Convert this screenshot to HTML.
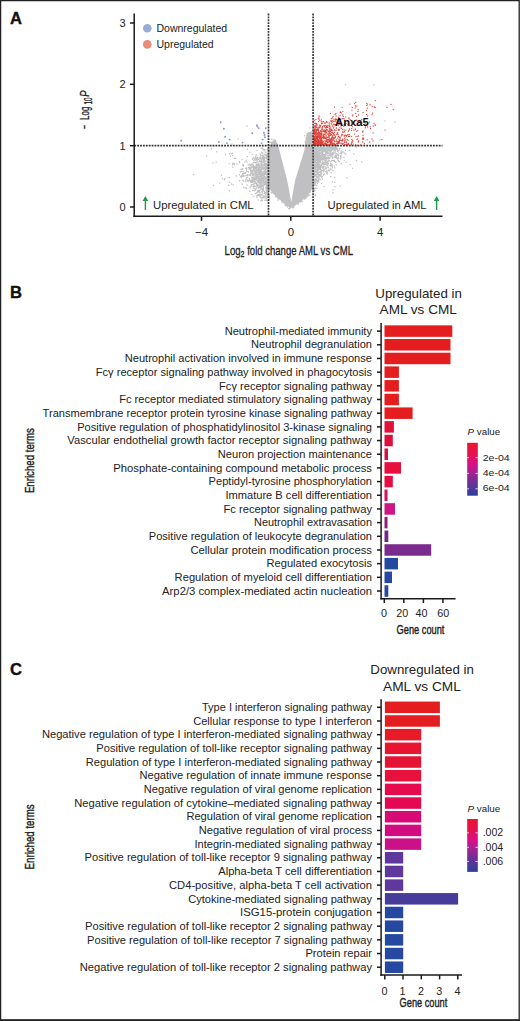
<!DOCTYPE html><html><head><meta charset="utf-8"><style>html,body{margin:0;padding:0;background:#fff;}svg{display:block;}text{font-family:"Liberation Sans", sans-serif;}</style></head><body>
<svg width="520" height="1021" viewBox="0 0 520 1021">
<rect x="0" y="0" width="520" height="1021" fill="#fff"/>
<text x="10.1" y="24.0" font-size="16.6" font-weight="bold" fill="#111" stroke="#111" stroke-width="0.35">A</text>
<text x="10.1" y="298.0" font-size="16.6" font-weight="bold" fill="#111" stroke="#111" stroke-width="0.35">B</text>
<text x="10.1" y="674.5" font-size="16.6" font-weight="bold" fill="#111" stroke="#111" stroke-width="0.35">C</text>
<path d="M291.2 202.0 L287.1 180.0 L278.7 147.5 L277.4 144.5 L276.2 141.2 L273.8 140.2 L271.4 142.0 L270.4 146.0 L269.6 150.0 L269.6 189.0 L274.0 194.5 L280.0 200.0 L286.0 205.0 L290.6 208.2 L295.0 205.8 L301.0 201.3 L306.2 197.5 L310.0 192.5 L313.3 185.5 L313.3 146.0 L313.3 134.0 L310.0 131.8 L306.6 135.0 L305.3 143.0 L304.5 150.0 L295.2 180.0z" fill="#c0c0c2"/>
<path d="M277.7 144.4h0M276.6 144.1h0M277.1 144.3h0M275.5 140.9h0M275.4 140.4h0M271.9 139.2h0M270.7 142.6h0M274.1 139.8h0M271.8 143.0h0M271.0 146.2h0M270.1 145.3h0M271.8 142.4h0M269.2 149.0h0M269.3 148.5h0M269.6 148.6h0M268.3 148.0h0M269.1 180.6h0M268.4 155.3h0M269.4 155.9h0M269.7 175.0h0M269.1 185.3h0M268.8 172.8h0M270.5 182.4h0M270.8 176.4h0M271.1 175.2h0M268.7 161.9h0M269.1 151.0h0M270.9 155.1h0M269.6 155.8h0M270.4 184.4h0M270.7 170.4h0M269.5 184.5h0M271.1 162.7h0M269.9 156.4h0M268.5 159.2h0M270.4 160.3h0M267.8 163.6h0M268.5 176.8h0M271.2 176.9h0M270.6 179.4h0M269.3 165.5h0M269.9 174.9h0M270.0 158.8h0M270.1 152.1h0M269.5 154.1h0M269.3 183.8h0M269.2 160.5h0M271.1 152.7h0M269.3 168.2h0M269.3 154.5h0M269.7 182.5h0M269.2 187.0h0M270.6 171.3h0M270.4 187.2h0M269.3 160.5h0M271.6 193.0h0M271.3 192.3h0M274.8 193.3h0M273.2 192.9h0M271.8 192.0h0M269.6 189.8h0M273.5 192.6h0M281.6 199.5h0M276.3 197.1h0M275.5 196.7h0M279.9 198.7h0M278.0 197.8h0M279.1 197.4h0M278.0 198.7h0M278.0 200.1h0M285.2 205.4h0M285.6 204.3h0M281.8 202.0h0M285.7 205.2h0M285.5 204.3h0M283.4 202.8h0M285.2 204.1h0M288.8 208.6h0M289.9 208.2h0M287.4 207.0h0M286.8 206.0h0M289.6 208.6h0M293.9 206.3h0M293.7 206.0h0M293.8 207.0h0M292.8 207.8h0M290.1 208.0h0M297.9 204.2h0M298.4 202.9h0M298.4 203.9h0M298.6 202.3h0M300.3 201.9h0M297.7 203.0h0M298.2 203.0h0M304.6 199.0h0M306.1 197.7h0M305.3 198.6h0M302.3 201.4h0M301.4 201.3h0M304.8 197.1h0M306.5 195.6h0M308.3 195.4h0M307.8 196.2h0M309.6 195.0h0M305.9 197.1h0M307.7 196.5h0M313.4 187.6h0M312.2 189.5h0M311.8 188.1h0M313.8 183.5h0M310.3 192.0h0M312.5 187.5h0M312.6 188.8h0M314.4 176.7h0M313.2 162.6h0M313.0 182.4h0M314.4 182.2h0M314.7 154.6h0M313.9 182.2h0M311.6 171.5h0M314.0 175.6h0M313.7 176.4h0M313.5 184.2h0M313.3 172.8h0M313.6 166.4h0M313.3 184.9h0M312.8 156.4h0M313.6 166.6h0M312.4 153.5h0M312.6 153.1h0M314.0 158.3h0M313.0 151.5h0M313.1 169.7h0M314.5 180.9h0M313.5 175.7h0M314.1 151.4h0M313.3 175.0h0M313.8 168.1h0M315.4 174.6h0M313.4 166.0h0M313.3 173.3h0M312.4 170.6h0M313.2 177.6h0M314.0 175.5h0M314.0 184.0h0M312.5 175.8h0M312.6 154.8h0M312.8 151.2h0M314.1 147.6h0M314.8 160.5h0M312.4 149.3h0M313.9 154.2h0M314.0 138.7h0M311.8 135.2h0M313.1 137.3h0M313.8 146.2h0M313.8 143.9h0M312.5 137.6h0M314.7 140.2h0M312.3 137.0h0M314.5 138.6h0M313.9 143.3h0M313.7 138.5h0M312.5 134.3h0M311.2 131.7h0M311.1 132.4h0M312.8 135.0h0M308.8 132.7h0M309.7 133.2h0M307.3 133.4h0M307.4 133.7h0M306.9 135.6h0M305.5 142.8h0M306.9 136.8h0M306.0 139.1h0M305.6 143.6h0M304.5 135.8h0M306.8 135.2h0M305.3 141.5h0M262.5 186.5h0M269.6 176.0h0M269.3 161.3h0M263.8 172.8h0M261.8 168.9h0M269.2 175.4h0M247.8 175.1h0M257.3 195.8h0M246.7 168.8h0M259.2 172.0h0M264.6 165.0h0M266.1 166.0h0M268.2 180.5h0M261.8 180.2h0M266.5 183.7h0M256.2 173.5h0M259.6 179.5h0M266.2 200.0h0M255.2 181.7h0M262.3 200.4h0M266.0 156.0h0M265.6 194.3h0M266.0 155.1h0M262.7 168.7h0M261.2 183.7h0M264.8 185.1h0M267.7 183.7h0M253.1 173.8h0M256.3 170.0h0M265.7 169.0h0M263.2 179.5h0M263.0 187.2h0M245.5 180.1h0M269.6 188.7h0M264.1 180.2h0M264.5 184.6h0M265.4 182.8h0M254.9 174.1h0M259.5 190.8h0M264.3 164.0h0M268.3 163.0h0M266.3 172.6h0M241.1 169.4h0M260.8 185.4h0M257.4 157.9h0M260.9 177.1h0M258.2 175.1h0M257.2 185.3h0M268.0 154.3h0M263.6 175.4h0M263.1 149.3h0M258.4 177.8h0M250.6 175.0h0M252.8 164.6h0M269.8 148.6h0M262.1 181.0h0M259.6 187.5h0M268.7 147.9h0M268.9 157.2h0M267.2 161.2h0M268.1 173.9h0M256.4 166.1h0M268.0 166.3h0M269.6 181.2h0M268.4 192.8h0M257.6 169.2h0M260.1 181.5h0M267.3 168.8h0M262.0 191.7h0M241.6 175.7h0M255.6 182.7h0M264.5 154.6h0M269.3 176.4h0M260.5 172.0h0M268.2 189.5h0M259.5 169.0h0M252.8 174.2h0M266.2 183.0h0M267.8 186.1h0M263.5 158.4h0M250.9 182.2h0M256.2 174.0h0M242.1 184.2h0M251.6 166.2h0M261.7 176.1h0M260.2 175.7h0M266.3 189.0h0M262.3 178.4h0M263.3 159.0h0M267.8 181.7h0M265.1 168.2h0M268.8 181.8h0M268.5 179.2h0M260.3 154.1h0M259.3 190.1h0M266.3 174.6h0M252.8 182.0h0M254.2 166.9h0M261.8 178.7h0M266.5 183.4h0M260.7 181.6h0M252.7 175.2h0M258.2 200.1h0M268.0 197.6h0M261.3 186.3h0M267.7 154.1h0M258.9 176.6h0M263.2 177.0h0M254.0 171.0h0M261.5 195.1h0M262.4 177.4h0M267.8 155.3h0M245.9 175.8h0M269.0 185.8h0M263.9 195.7h0M265.9 168.2h0M264.1 167.8h0M260.1 172.7h0M268.8 174.8h0M244.2 176.0h0M256.3 155.1h0M268.6 184.0h0M259.0 179.9h0M269.7 171.5h0M246.5 188.3h0M261.3 176.2h0M268.7 195.5h0M268.6 151.8h0M266.3 158.1h0M257.6 184.7h0M264.4 191.7h0M269.6 178.9h0M267.3 165.6h0M260.1 176.3h0M246.5 171.4h0M260.9 171.8h0M265.3 174.3h0M251.8 177.8h0M261.9 175.2h0M256.0 178.0h0M261.4 183.7h0M262.9 156.6h0M257.1 159.9h0M266.5 191.5h0M258.8 190.6h0M267.5 189.7h0M269.6 183.9h0M258.9 182.2h0M265.1 164.1h0M257.2 186.1h0M267.4 174.3h0M257.0 197.6h0M262.6 186.4h0M251.1 185.1h0M268.1 178.1h0M264.3 173.3h0M244.0 187.4h0M263.6 150.0h0M257.6 157.6h0M267.2 165.8h0M242.8 180.2h0M261.4 188.2h0M264.5 168.6h0M265.3 170.3h0M261.4 177.7h0M261.9 160.3h0M268.1 175.5h0M255.6 166.2h0M260.7 179.3h0M250.6 181.4h0M268.6 170.7h0M263.4 185.1h0M266.0 158.0h0M266.2 181.3h0M258.9 170.7h0M260.2 172.8h0M267.1 185.4h0M265.9 164.3h0M262.9 153.4h0M269.6 186.9h0M252.7 181.6h0M268.6 175.4h0M263.3 185.7h0M259.4 180.5h0M261.8 185.3h0M268.1 176.1h0M265.9 158.0h0M267.2 179.6h0M262.7 166.3h0M269.6 168.0h0M256.3 171.8h0M267.3 180.4h0M269.1 152.4h0M268.3 183.1h0M256.3 195.9h0M268.1 189.2h0M251.9 184.4h0M257.5 192.5h0M261.5 159.0h0M268.2 193.5h0M258.8 187.5h0M267.6 155.7h0M259.0 183.0h0M265.6 183.9h0M269.5 179.3h0M267.9 195.1h0M252.1 172.8h0M249.8 167.0h0M258.5 180.7h0M255.7 186.4h0M265.8 169.6h0M260.3 187.2h0M263.3 168.5h0M267.8 163.6h0M260.0 176.0h0M268.2 165.2h0M268.2 196.1h0M265.2 161.4h0M265.6 187.8h0M265.3 179.1h0M257.0 177.3h0M254.2 180.3h0M253.7 179.5h0M267.6 185.0h0M259.5 160.3h0M249.7 179.9h0M259.7 196.3h0M255.7 193.6h0M266.8 174.5h0M257.3 167.5h0M245.3 173.3h0M260.1 167.5h0M266.9 194.0h0M258.4 173.1h0M259.2 191.9h0M267.7 197.4h0M264.5 197.7h0M263.5 186.6h0M268.7 170.9h0M268.7 189.8h0M267.0 178.1h0M254.2 181.7h0M264.6 167.7h0M268.6 170.4h0M254.4 169.0h0M255.2 171.6h0M259.4 194.6h0M265.9 169.4h0M253.9 171.0h0M253.7 174.2h0M267.0 188.8h0M265.2 164.6h0M257.4 176.2h0M253.7 184.2h0M265.7 197.1h0M253.4 174.6h0M268.6 191.5h0M261.6 169.4h0M269.8 178.3h0M257.8 185.2h0M265.1 161.4h0M266.1 180.3h0M253.3 177.6h0M269.7 175.9h0M265.6 171.4h0M263.6 169.4h0M263.5 160.6h0M254.6 180.0h0M268.9 168.4h0M266.6 183.6h0M265.7 178.3h0M256.2 158.6h0M258.4 177.5h0M268.1 174.8h0M259.2 165.1h0M257.8 164.4h0M269.0 185.2h0M267.2 165.6h0M258.4 172.9h0M269.5 172.5h0M269.5 179.3h0M244.0 173.1h0M265.4 165.6h0M259.4 181.5h0M257.6 165.7h0M266.5 157.2h0M268.7 184.6h0M254.5 178.7h0M269.6 161.0h0M259.2 173.6h0M256.1 157.9h0M262.0 179.5h0M263.2 177.6h0M259.9 180.6h0M269.8 177.7h0M262.9 155.7h0M268.7 158.7h0M254.3 190.8h0M261.3 183.6h0M251.2 173.6h0M267.5 149.8h0M265.0 200.2h0M268.1 175.9h0M257.3 195.6h0M259.4 168.0h0M267.3 197.8h0M256.8 183.1h0M264.4 165.3h0M260.3 157.7h0M260.4 173.1h0M263.9 158.7h0M267.7 164.5h0M267.6 159.0h0M266.6 183.1h0M264.4 171.5h0M264.5 171.3h0M260.3 176.0h0M268.1 170.0h0M252.8 177.3h0M258.1 180.0h0M269.5 160.6h0M260.8 170.4h0M261.4 168.6h0M267.8 153.9h0M252.8 172.1h0M266.5 154.5h0M268.3 173.0h0M248.4 180.9h0M263.7 180.2h0M264.2 158.6h0M268.8 159.3h0M254.2 180.6h0M267.3 187.1h0M267.9 185.5h0M269.4 176.2h0M267.6 185.2h0M258.6 163.3h0M269.5 150.6h0M267.9 172.7h0M264.2 163.6h0M259.3 176.7h0M256.4 170.6h0M247.7 180.2h0M261.4 194.5h0M269.3 175.3h0M251.6 181.3h0M269.7 176.2h0M269.2 160.5h0M262.8 177.3h0M269.5 163.5h0M262.1 179.8h0M266.7 184.6h0M252.5 179.3h0M269.7 169.0h0M266.3 171.6h0M252.7 179.6h0M254.2 179.0h0M261.2 167.2h0M260.4 154.3h0M261.9 197.4h0M268.6 183.4h0M245.3 172.8h0M269.7 162.8h0M264.4 181.8h0M267.0 160.1h0M250.6 175.6h0M261.8 168.0h0M264.0 171.6h0M256.6 185.2h0M262.8 174.6h0M264.9 155.0h0M267.1 169.3h0M267.2 149.7h0M262.3 175.6h0M253.5 168.8h0M264.3 179.0h0M262.7 180.3h0M258.0 168.0h0M261.3 180.9h0M243.9 187.7h0M264.5 174.2h0M268.6 180.6h0M261.1 148.2h0M252.1 180.7h0M267.0 167.4h0M265.7 171.2h0M258.9 178.3h0M267.6 187.3h0M252.9 179.9h0M269.8 157.3h0M268.4 168.3h0M263.4 164.9h0M244.8 173.4h0M264.7 160.2h0M257.8 174.9h0M251.6 177.7h0M258.5 190.7h0M249.6 167.5h0M255.8 167.3h0M267.2 164.6h0M266.1 171.1h0M263.2 155.9h0M254.3 171.0h0M257.7 175.0h0M266.4 158.3h0M262.5 159.2h0M266.8 182.2h0M255.6 162.7h0M262.2 163.9h0M269.3 178.4h0M268.1 167.9h0M243.5 180.9h0M269.2 169.3h0M264.4 161.1h0M256.5 171.9h0M256.6 159.9h0M268.4 162.3h0M267.4 183.1h0M259.6 170.0h0M263.9 175.5h0M268.8 186.7h0M266.8 184.4h0M268.7 173.3h0M264.6 163.6h0M259.8 171.3h0M261.7 174.2h0M242.7 173.4h0M268.5 166.3h0M259.0 179.0h0M263.9 176.6h0M249.3 178.8h0M260.9 165.7h0M266.9 166.7h0M267.6 186.4h0M256.7 160.1h0M258.2 180.7h0M256.2 170.7h0M257.4 191.7h0M255.6 160.1h0M258.7 173.7h0M257.7 174.7h0M269.0 175.4h0M260.7 173.2h0M260.1 175.3h0M268.5 161.9h0M258.7 163.1h0M255.8 156.4h0M266.7 177.6h0M250.1 187.8h0M263.6 176.5h0M256.2 183.7h0M269.6 176.9h0M265.8 192.4h0M264.5 175.0h0M263.4 180.7h0M259.3 176.9h0M252.8 190.5h0M263.1 177.0h0M261.0 188.3h0M253.1 178.6h0M259.9 192.3h0M263.4 179.4h0M257.0 169.6h0M257.5 174.3h0M260.9 186.8h0M261.5 174.2h0M260.1 184.3h0M265.7 188.1h0M259.8 184.0h0M269.7 159.4h0M268.8 175.9h0M259.3 182.6h0M265.0 157.9h0M260.6 181.5h0M257.6 190.5h0M268.1 183.1h0M256.5 172.7h0M261.7 163.0h0M256.5 170.3h0M245.5 173.3h0M251.9 177.6h0M262.5 179.2h0M263.2 166.9h0M257.0 165.9h0M268.8 177.4h0M259.5 166.5h0M249.8 180.2h0M264.4 167.2h0M262.7 197.6h0M268.0 183.4h0M255.7 189.7h0M267.1 172.1h0M266.3 164.2h0M256.6 184.6h0M269.2 165.8h0M265.8 171.5h0M268.2 149.4h0M269.4 173.9h0M260.2 176.3h0M261.1 160.8h0M245.9 181.7h0M261.1 161.8h0M259.2 161.5h0M262.0 159.5h0M253.4 179.3h0M266.5 154.5h0M265.6 181.4h0M266.7 196.0h0M262.6 190.7h0M257.6 159.2h0M255.5 178.7h0M260.1 174.5h0M265.5 165.3h0M264.5 158.8h0M268.3 178.8h0M268.5 171.8h0M258.3 191.7h0M264.2 150.1h0M269.2 173.0h0M261.2 162.3h0M260.0 161.6h0M256.6 177.0h0M268.4 185.8h0M268.7 182.0h0M267.4 175.1h0M265.1 169.2h0M265.7 173.9h0M252.1 170.2h0M268.9 177.2h0M268.8 195.3h0M267.1 178.7h0M262.1 155.5h0M259.0 159.1h0M266.7 183.9h0M263.1 161.6h0M252.3 171.1h0M267.9 170.6h0M257.4 175.2h0M263.7 156.3h0M268.9 180.2h0M261.8 167.5h0M260.7 163.9h0M258.9 179.4h0M267.1 168.9h0M266.7 168.7h0M261.0 163.6h0M261.6 161.1h0M263.7 181.1h0M255.3 178.5h0M265.9 173.8h0M267.6 194.2h0M260.8 180.2h0M262.3 147.9h0M256.8 183.3h0M258.7 170.2h0M263.0 184.3h0M256.2 168.2h0M260.0 193.0h0M269.1 174.8h0M257.8 173.9h0M262.5 155.3h0M267.6 177.8h0M253.1 186.4h0M259.6 185.9h0M248.0 171.4h0M253.8 181.7h0M264.7 184.9h0M263.3 188.7h0M262.5 177.5h0M243.2 175.0h0M254.2 176.7h0M258.7 168.9h0M261.3 177.6h0M249.4 175.2h0M268.6 169.8h0M251.9 182.5h0M254.8 176.8h0M259.8 195.7h0M268.3 160.9h0M266.0 168.1h0M263.0 177.8h0M259.6 171.4h0M265.8 163.3h0M269.1 167.9h0M266.3 186.8h0M256.3 179.2h0M263.2 158.7h0M263.0 189.0h0M267.1 187.5h0M246.8 175.4h0M255.0 173.5h0M268.3 176.4h0M253.2 196.7h0M267.8 188.6h0M265.1 152.0h0M262.4 172.8h0M267.8 177.0h0M256.0 179.7h0M261.2 180.0h0M248.2 165.0h0M256.6 166.1h0M265.3 181.6h0M261.3 178.8h0M254.8 172.6h0M254.2 168.0h0M260.3 170.0h0M254.5 183.5h0M269.4 183.8h0M267.8 184.3h0M254.5 158.9h0M260.8 194.7h0M265.8 196.0h0M254.1 170.5h0M269.4 179.2h0M256.3 187.9h0M264.7 192.4h0M255.5 170.0h0M264.4 175.3h0M262.0 170.7h0M261.1 185.2h0M262.5 179.5h0M257.5 186.7h0M268.8 194.8h0M266.9 176.1h0M266.4 182.9h0M264.0 198.0h0M265.8 180.2h0M268.2 169.7h0M263.4 196.7h0M261.5 165.5h0M254.3 162.6h0M268.1 157.6h0M263.5 180.5h0M265.0 193.5h0M267.8 168.4h0M263.4 181.8h0M266.4 168.8h0M248.3 171.8h0M263.9 171.2h0M269.3 164.1h0M266.6 180.1h0M269.3 179.2h0M260.9 189.7h0M257.1 178.4h0M261.2 172.8h0M259.4 178.6h0M265.2 172.5h0M263.9 172.4h0M260.8 200.8h0M261.4 182.1h0M268.5 197.6h0M264.6 171.3h0M269.6 198.6h0M268.6 167.1h0M265.2 149.7h0M255.2 178.2h0M264.3 180.1h0M251.8 177.5h0M265.4 176.7h0M262.8 189.6h0M269.6 165.0h0M254.7 179.7h0M250.3 169.0h0M266.2 167.7h0M264.1 193.6h0M262.2 158.2h0M265.0 196.4h0M253.4 162.7h0M260.3 184.6h0M246.8 177.7h0M269.1 178.7h0M264.6 183.0h0M264.7 164.6h0M268.9 185.3h0M257.4 174.3h0M264.0 173.3h0M265.1 174.4h0M266.0 152.5h0M267.3 166.8h0M269.8 163.1h0M250.4 170.6h0M261.8 152.8h0M255.8 175.5h0M240.3 172.0h0M268.6 179.2h0M263.1 182.8h0M268.7 180.7h0M255.3 172.2h0M269.1 186.0h0M257.6 177.2h0M253.6 165.4h0M251.5 172.2h0M269.2 190.2h0M260.4 171.3h0M261.1 185.2h0M261.4 175.0h0M260.2 183.8h0M266.1 187.7h0M253.3 169.6h0M259.7 165.8h0M262.3 195.1h0M251.0 170.3h0M259.4 186.5h0M251.4 173.0h0M265.6 167.2h0M263.8 182.9h0M251.0 186.5h0M252.0 172.3h0M267.9 163.0h0M241.5 171.6h0M261.9 171.6h0M255.7 171.2h0M260.9 183.3h0M259.7 186.6h0M267.5 180.6h0M250.3 174.9h0M267.4 200.4h0M257.5 159.8h0M258.1 194.4h0M267.0 192.5h0M252.7 173.1h0M255.7 172.7h0M263.7 190.5h0M255.9 174.9h0M267.7 187.4h0M266.5 185.4h0M246.6 169.9h0M263.2 157.5h0M255.9 174.1h0M266.3 178.2h0M263.4 180.2h0M262.2 182.7h0M269.6 180.7h0M249.0 180.4h0M258.8 168.1h0M265.7 164.6h0M266.8 168.2h0M257.2 161.5h0M260.4 169.9h0M269.4 177.1h0M259.1 183.8h0M268.3 174.0h0M256.1 174.0h0M269.0 194.9h0M262.0 190.9h0M260.2 175.6h0M268.9 174.2h0M249.7 167.7h0M266.2 185.3h0M260.4 176.6h0M269.3 183.7h0M265.5 169.0h0M263.2 174.5h0M261.0 168.9h0M256.5 167.2h0M254.7 188.6h0M268.4 154.6h0M250.5 174.1h0M267.9 153.3h0M246.4 167.9h0M256.7 192.6h0M269.4 196.3h0M263.9 162.4h0M266.9 190.8h0M263.0 156.0h0M259.6 186.9h0M262.0 165.0h0M266.5 155.7h0M258.9 171.7h0M266.4 163.4h0M253.2 165.4h0M259.3 183.6h0M267.4 167.5h0M263.8 172.7h0M264.2 160.3h0M261.8 198.9h0M252.1 164.2h0M249.8 191.6h0M258.2 178.7h0M268.9 176.6h0M266.2 190.4h0M267.7 175.5h0M258.8 159.6h0M252.4 174.8h0M261.5 172.9h0M261.2 182.5h0M254.2 168.5h0M264.8 169.0h0M261.6 174.1h0M256.6 184.0h0M249.0 168.9h0M262.6 152.9h0M242.6 176.1h0M258.9 166.5h0M263.4 178.1h0M246.2 160.6h0M257.9 181.9h0M258.8 195.4h0M251.4 166.5h0M263.9 173.4h0M266.4 178.5h0M263.4 189.5h0M263.1 174.8h0M262.8 191.1h0M254.3 168.0h0M258.4 174.3h0M267.5 178.4h0M269.5 164.6h0M262.4 174.0h0M260.5 197.6h0M265.7 165.4h0M262.4 188.9h0M261.4 171.8h0M256.8 162.7h0M264.8 174.7h0M259.1 178.4h0M266.6 192.6h0M263.1 178.6h0M263.6 188.3h0M268.7 159.6h0M250.5 170.8h0M261.7 176.7h0M266.5 192.8h0M269.3 181.1h0M257.5 180.7h0M263.1 165.6h0M267.1 186.1h0M258.1 177.8h0M259.1 164.5h0M263.6 171.6h0M245.4 168.5h0M263.9 182.9h0M254.0 166.4h0M265.5 161.4h0M259.1 191.0h0M261.8 171.4h0M255.9 172.1h0M268.2 187.7h0M261.1 185.6h0M267.7 164.8h0M265.2 166.0h0M258.7 185.4h0M255.8 170.9h0M261.2 186.6h0M262.8 165.4h0M267.5 180.9h0M260.4 180.3h0M262.3 175.3h0M261.6 173.1h0M266.9 193.0h0M264.3 171.0h0M264.9 173.5h0M248.4 172.1h0M261.3 184.4h0M253.6 186.7h0M261.0 181.3h0M258.9 172.9h0M267.9 183.2h0M266.2 189.1h0M257.3 177.0h0M258.2 188.3h0M245.4 173.2h0M264.6 164.8h0M254.1 175.4h0M247.5 180.9h0M260.9 185.7h0M267.6 165.4h0M258.6 176.7h0M258.3 166.1h0M259.5 170.4h0M266.2 181.7h0M261.8 181.5h0M265.1 171.9h0M266.1 164.0h0M269.8 164.5h0M266.1 184.9h0M263.9 176.0h0M260.7 172.9h0M261.6 152.5h0M246.5 179.0h0M265.2 179.3h0M267.0 174.5h0M255.4 167.1h0M260.8 167.3h0M256.4 164.5h0M247.5 175.2h0M258.2 164.5h0M264.6 177.6h0M262.1 192.4h0M266.6 174.2h0M268.2 182.2h0M260.6 178.4h0M267.6 172.4h0M255.3 168.3h0M251.2 185.2h0M264.2 157.0h0M257.5 174.6h0M260.3 170.4h0M269.7 198.7h0M260.5 176.7h0M266.2 198.6h0M267.6 172.0h0M264.2 175.2h0M262.2 177.2h0M262.2 192.9h0M262.4 191.5h0M260.7 158.7h0M261.7 179.8h0M261.9 200.5h0M264.4 149.4h0M253.2 167.7h0M256.2 183.5h0M268.7 171.0h0M258.5 170.8h0M256.4 172.9h0M255.3 190.2h0M266.8 180.3h0M243.1 165.9h0M261.2 165.5h0M262.0 157.6h0M247.8 174.5h0M256.3 180.4h0M239.5 180.7h0M254.2 185.4h0M260.6 161.6h0M213.5 185.6h0M251.0 180.3h0M252.9 178.8h0M243.7 165.2h0M250.9 165.5h0M261.1 155.0h0M247.1 162.1h0M225.6 154.8h0M256.7 175.4h0M256.9 164.4h0M259.9 181.9h0M259.2 174.4h0M254.8 178.5h0M247.2 156.5h0M241.5 177.5h0M257.8 172.4h0M193.7 174.4h0M262.0 172.7h0M249.4 164.6h0M257.9 164.3h0M260.4 156.2h0M236.4 176.0h0M243.0 171.5h0M232.6 155.6h0M261.9 162.5h0M258.6 179.8h0M255.6 172.4h0M248.5 167.6h0M229.6 153.7h0M256.1 177.1h0M221.5 175.3h0M242.5 169.4h0M224.3 179.7h0M242.9 164.7h0M255.3 158.2h0M247.8 174.7h0M254.7 186.3h0M232.6 153.3h0M216.1 162.2h0M253.3 184.3h0M262.0 162.4h0M234.4 164.7h0M245.8 187.4h0M241.6 177.3h0M260.2 175.5h0M256.1 183.6h0M229.2 177.6h0M261.3 194.9h0M231.5 184.0h0M253.9 160.5h0M239.5 161.8h0M252.5 159.6h0M249.8 152.2h0M219.7 182.9h0M246.2 175.6h0M252.1 154.3h0M250.2 165.0h0M252.1 179.9h0M225.0 178.5h0M206.5 155.9h0M232.7 164.7h0M231.3 153.8h0M247.7 177.2h0M213.0 163.1h0M230.5 156.1h0M255.8 172.3h0M258.1 181.4h0M249.6 168.0h0M253.2 188.2h0M250.7 171.8h0M242.0 159.4h0M234.1 163.4h0M253.4 166.9h0M242.5 173.9h0M251.8 194.8h0M251.1 168.1h0M239.6 162.4h0M261.8 179.0h0M247.1 185.1h0M252.3 166.9h0M232.8 167.2h0M242.3 168.6h0M240.8 176.4h0M243.8 176.2h0M253.8 157.6h0M211.4 148.7h0M260.2 196.2h0M251.4 164.1h0M235.5 158.6h0M247.3 149.3h0M233.2 184.7h0M256.3 178.9h0M259.2 168.4h0M253.5 162.5h0M229.2 163.7h0M229.7 182.2h0M216.7 151.8h0M252.8 158.8h0M261.4 164.3h0M259.2 158.1h0M256.8 150.4h0M236.9 164.1h0M228.7 185.2h0M233.2 163.3h0M239.5 174.8h0M258.5 179.6h0M232.6 164.0h0M261.6 161.2h0M222.3 178.5h0M252.6 178.1h0M251.4 166.9h0M257.6 170.8h0M244.8 162.1h0M253.7 166.4h0M234.3 158.3h0M229.3 190.9h0M242.8 165.2h0M314.1 162.7h0M323.6 158.9h0M323.1 168.5h0M314.9 157.7h0M328.4 157.9h0M320.1 162.3h0M327.4 165.1h0M320.6 174.3h0M316.6 152.4h0M321.0 152.9h0M320.5 165.0h0M315.2 157.2h0M322.4 159.5h0M317.8 162.1h0M314.5 148.3h0M317.7 160.7h0M314.5 165.9h0M313.6 152.4h0M324.5 162.6h0M324.2 149.1h0M313.3 160.5h0M317.6 166.1h0M325.7 161.3h0M316.7 151.8h0M314.1 181.4h0M317.6 171.0h0M317.0 159.3h0M321.4 176.9h0M315.2 176.0h0M314.7 160.3h0M321.2 175.0h0M323.8 148.6h0M315.9 164.6h0M319.5 150.5h0M325.1 160.0h0M320.3 148.6h0M314.3 156.6h0M314.0 162.9h0M323.9 148.7h0M325.6 160.7h0M315.7 154.6h0M322.1 157.0h0M320.6 153.0h0M327.3 172.8h0M325.9 159.9h0M314.8 179.5h0M320.9 150.7h0M320.8 167.4h0M315.6 148.5h0M315.5 165.0h0M340.9 151.9h0M315.0 150.7h0M319.4 160.1h0M315.8 148.7h0M314.5 173.6h0M317.1 164.0h0M320.3 169.2h0M317.8 165.7h0M321.3 173.3h0M333.7 152.5h0M319.6 162.0h0M317.9 158.1h0M336.7 155.5h0M330.5 155.2h0M314.3 176.8h0M313.4 161.9h0M321.5 171.8h0M315.1 161.6h0M316.7 152.2h0M321.9 149.9h0M328.1 158.1h0M314.0 148.0h0M332.3 166.1h0M349.7 150.5h0M323.8 166.9h0M315.0 155.3h0M318.0 162.2h0M326.8 152.7h0M324.4 169.9h0M323.3 163.9h0M325.5 157.0h0M321.3 158.6h0M319.9 166.5h0M313.8 171.6h0M314.1 174.0h0M316.5 176.5h0M319.5 174.5h0M316.2 149.8h0M317.2 167.6h0M328.5 150.5h0M326.9 148.3h0M326.4 171.5h0M313.7 186.2h0M314.4 175.5h0M316.5 149.4h0M329.9 151.7h0M327.4 147.5h0M314.3 183.9h0M322.0 154.4h0M316.7 172.2h0M335.3 152.0h0M315.0 152.6h0M315.4 195.4h0M327.7 147.4h0M318.7 172.5h0M318.5 150.9h0M313.8 151.8h0M321.0 153.4h0M315.6 160.8h0M325.6 151.7h0M339.1 154.1h0M317.3 167.1h0M313.4 155.9h0M320.1 160.5h0M319.6 152.2h0M316.3 174.7h0M320.9 158.4h0M320.9 147.6h0M330.5 151.4h0M314.4 173.2h0M315.2 175.4h0M319.2 159.6h0M317.4 164.3h0M320.2 153.6h0M323.0 168.1h0M319.6 153.7h0M321.7 155.0h0M317.4 157.9h0M316.4 180.5h0M317.1 178.1h0M320.2 147.7h0M315.2 148.5h0M320.3 147.6h0M313.8 152.3h0M322.2 154.9h0M318.9 169.7h0M329.6 155.5h0M334.3 160.4h0M316.3 179.3h0M318.7 149.8h0M320.7 172.3h0M314.9 152.0h0M314.7 165.1h0M325.3 149.3h0M318.5 148.1h0M320.0 153.2h0M321.3 147.9h0M316.2 151.8h0M314.3 156.0h0M319.0 167.2h0M338.2 157.5h0M319.1 148.1h0M336.4 156.8h0M314.4 154.3h0M316.8 160.7h0M316.2 159.2h0M327.4 149.3h0M325.9 148.2h0M332.5 152.8h0M323.2 148.9h0M326.2 164.7h0M337.4 155.1h0M316.0 151.0h0M317.2 164.0h0M322.3 163.3h0M323.7 150.0h0M337.3 158.7h0M315.4 194.8h0M323.0 148.0h0M322.7 153.0h0M313.7 157.8h0M328.8 158.5h0M316.8 169.0h0M317.4 183.5h0M321.0 155.2h0M319.5 169.1h0M313.9 151.7h0M314.0 147.3h0M318.3 180.5h0M323.5 148.6h0M329.5 147.6h0M322.3 167.6h0M321.5 165.7h0M325.1 160.1h0M318.9 163.8h0M318.5 168.7h0M321.3 150.4h0M324.4 155.9h0M315.7 157.6h0M318.8 167.5h0M333.2 149.0h0M319.0 177.5h0M337.2 150.9h0M313.9 152.6h0M318.7 157.6h0M324.0 164.2h0M323.7 171.8h0M320.5 168.3h0M325.1 151.7h0M315.7 174.5h0M313.4 154.1h0M326.6 155.1h0M320.6 171.2h0M324.9 149.7h0M331.1 156.2h0M328.8 147.7h0M319.6 153.3h0M318.3 174.6h0M319.6 168.0h0M314.0 162.5h0M318.1 163.5h0M319.9 161.3h0M317.7 148.5h0M322.7 149.7h0M314.2 171.6h0M314.2 162.1h0M318.2 179.4h0M317.6 160.3h0M331.5 156.0h0M320.4 161.2h0M324.6 158.3h0M326.9 152.2h0M315.6 167.1h0M323.2 163.9h0M317.1 172.1h0M333.6 160.6h0M321.5 165.6h0M313.6 189.5h0M317.5 163.1h0M328.8 160.3h0M322.6 159.5h0M334.5 161.5h0M313.4 148.0h0M325.6 151.1h0M333.9 157.6h0M325.0 154.9h0M322.7 157.0h0M326.1 158.8h0M322.8 148.3h0M313.7 169.8h0M326.3 164.4h0M333.3 153.7h0M314.0 156.9h0M314.2 155.7h0M315.6 153.9h0M330.6 154.4h0M316.3 162.2h0M322.4 149.5h0M315.5 171.5h0M318.7 147.8h0M341.3 163.7h0M317.2 177.5h0M315.7 178.7h0M314.5 159.3h0M324.8 147.4h0M314.2 148.2h0M313.9 161.9h0M317.4 180.8h0M316.8 154.2h0M322.5 149.8h0M315.9 179.4h0M313.4 178.9h0M326.0 158.6h0M322.9 154.0h0M326.6 160.7h0M330.0 148.8h0M318.2 170.0h0M314.2 183.5h0M320.0 149.1h0M322.3 166.5h0M317.1 159.1h0M315.8 159.4h0M317.8 160.7h0M317.9 176.9h0M324.4 157.4h0M316.3 154.5h0M330.5 151.3h0M334.7 157.0h0M326.8 157.5h0M324.1 157.2h0M318.8 182.0h0M329.4 158.6h0M318.7 147.5h0M318.1 159.9h0M319.2 178.7h0M313.9 177.3h0M330.7 154.8h0M322.2 164.0h0M318.6 152.5h0M327.1 158.2h0M315.2 161.6h0M314.6 152.0h0M318.9 151.9h0M314.8 159.3h0M317.2 169.5h0M323.4 167.0h0M317.2 178.1h0M318.6 176.3h0M319.7 172.1h0M326.5 149.3h0M319.3 150.6h0M318.2 156.6h0M334.9 149.3h0M330.3 153.3h0M328.8 158.1h0M325.9 168.2h0M327.2 173.9h0M324.8 148.2h0M326.5 149.5h0M329.5 170.3h0M326.9 148.0h0M323.0 158.0h0M317.0 164.5h0M320.3 149.1h0M330.1 157.6h0M315.9 167.6h0M316.2 185.5h0M324.9 151.8h0M331.7 150.4h0M323.3 155.7h0M322.6 151.9h0M313.7 151.2h0M315.5 157.9h0M324.9 161.1h0M325.3 156.4h0M316.7 159.4h0M315.2 169.4h0M319.7 148.3h0M317.9 147.8h0M323.3 154.4h0M325.8 154.7h0M316.0 165.0h0M323.0 156.1h0M327.4 152.7h0M316.2 176.1h0M337.3 148.4h0M320.4 166.7h0M318.3 160.6h0M321.4 149.1h0M329.3 149.2h0M319.1 151.7h0M319.8 155.6h0M319.7 153.7h0M322.7 156.2h0M314.6 161.7h0M328.3 149.1h0M317.4 154.1h0M315.4 168.6h0M313.3 158.6h0M313.6 157.0h0M325.7 151.4h0M319.0 160.0h0M317.1 181.7h0M314.8 158.5h0M315.7 169.9h0M317.5 173.4h0M343.1 152.1h0M320.5 175.5h0M321.5 153.2h0M318.4 176.4h0M326.7 173.2h0M340.6 156.3h0M325.1 149.9h0M320.6 156.3h0M315.2 153.9h0M316.7 172.7h0M317.7 159.9h0M315.3 155.9h0M346.1 162.2h0M316.7 156.0h0M327.9 166.0h0M333.3 147.7h0M317.4 162.7h0M329.3 155.8h0M314.0 170.5h0M315.6 154.5h0M326.2 162.6h0M315.2 184.8h0M321.3 172.1h0M326.9 171.1h0M313.9 161.4h0M315.1 179.3h0M326.3 168.7h0M317.8 159.8h0M316.1 180.8h0M316.9 188.5h0M336.5 155.3h0M314.2 176.9h0M317.3 159.8h0M317.2 157.7h0M314.2 165.0h0M323.6 166.9h0M315.7 161.3h0M316.7 163.6h0M318.2 176.7h0M314.5 184.2h0M325.1 162.6h0M318.1 160.1h0M329.3 160.5h0M313.5 165.4h0M315.8 148.8h0M333.5 147.4h0M322.9 167.1h0M322.7 158.5h0M316.1 151.3h0M320.7 162.7h0M314.2 166.8h0M315.8 154.2h0M321.6 173.4h0M315.4 156.1h0M314.7 155.3h0M317.0 151.7h0M317.1 156.9h0M314.0 189.6h0M325.4 156.4h0M320.9 162.1h0M340.9 157.7h0M356.3 147.3h0M322.9 149.4h0M316.5 176.9h0M318.7 164.9h0M328.2 147.2h0M316.7 153.5h0M316.2 159.2h0M336.7 153.5h0M323.9 158.2h0M340.0 148.6h0M315.2 162.8h0M323.0 153.0h0M322.7 160.1h0M323.1 151.4h0M320.1 167.6h0M322.8 161.7h0M316.9 180.4h0M318.2 147.4h0M324.2 148.1h0M320.8 169.4h0M313.5 153.7h0M314.0 183.0h0M318.0 175.3h0M334.9 150.5h0M315.1 179.1h0M327.3 153.2h0M323.5 158.9h0M313.6 152.1h0M315.5 171.5h0M315.0 175.5h0M332.4 167.8h0M321.1 169.7h0M316.1 171.9h0M328.1 162.1h0M316.9 153.4h0M320.4 160.0h0M320.1 166.1h0M315.1 174.0h0M337.7 154.8h0M324.7 150.7h0M316.1 170.9h0M321.5 160.1h0M338.3 151.9h0M316.4 177.0h0M325.2 149.8h0M314.0 185.2h0M317.7 161.3h0M314.2 150.3h0M330.7 164.2h0M313.7 176.0h0M323.2 158.6h0M321.6 157.3h0M314.5 167.9h0M322.8 161.7h0M322.1 170.6h0M323.8 151.2h0M314.3 172.2h0M323.3 163.1h0M317.0 157.5h0M314.0 170.5h0M322.5 176.4h0M323.4 155.4h0M322.3 153.6h0M313.5 152.1h0M333.0 153.7h0M318.6 155.7h0M314.9 163.0h0M319.3 154.9h0M323.2 170.1h0M321.2 152.1h0M323.9 174.6h0M313.6 172.0h0M326.7 162.7h0M316.4 166.4h0M323.2 156.0h0M327.5 162.3h0M319.1 150.6h0M315.8 152.5h0M326.2 152.5h0M323.2 157.6h0M320.4 167.4h0M321.8 155.3h0M325.7 153.3h0M315.3 172.0h0M322.6 155.5h0M327.0 172.3h0M332.4 147.3h0M319.0 163.8h0M316.1 169.4h0M318.8 153.4h0M317.1 172.6h0M327.7 156.0h0M317.4 156.7h0M315.0 159.3h0M326.6 159.0h0M330.9 161.4h0M326.0 152.0h0M326.9 167.5h0M313.7 161.4h0M318.6 148.5h0M314.0 153.9h0M328.4 153.1h0M314.5 154.4h0M316.2 151.7h0M316.0 154.5h0M316.6 170.8h0M319.9 160.1h0M315.7 152.2h0M323.8 158.4h0M314.8 173.4h0M313.9 148.2h0M327.1 151.2h0M331.9 147.7h0M315.7 156.5h0M320.4 169.5h0M319.7 159.2h0M340.8 153.6h0M314.6 188.7h0M315.4 188.1h0M314.8 190.9h0M321.9 155.6h0M319.7 161.1h0M319.1 171.5h0M318.2 151.6h0M314.5 163.2h0M314.5 158.1h0M318.2 167.6h0M315.8 151.4h0M314.7 158.0h0M319.4 168.9h0M313.4 190.8h0M315.4 188.6h0M314.0 160.3h0M313.9 153.2h0M327.5 149.8h0M317.5 167.8h0M317.5 156.9h0M338.0 155.2h0M313.5 186.0h0M318.8 152.0h0M327.7 161.4h0M317.1 165.4h0M319.5 149.4h0M315.7 153.3h0M331.7 166.1h0M317.6 149.4h0M315.2 165.8h0M325.1 155.2h0M320.2 161.0h0M313.3 147.8h0M330.9 150.7h0M339.2 161.7h0M327.2 163.3h0M328.3 157.9h0M315.6 167.9h0M321.6 154.9h0M325.2 148.2h0M335.3 155.7h0M316.8 149.0h0M330.5 165.7h0M317.6 156.8h0M322.0 148.6h0M319.9 168.5h0M317.8 160.1h0M314.3 156.1h0M314.2 184.1h0M318.9 152.6h0M317.7 152.0h0M324.0 165.0h0M316.3 159.6h0M326.2 164.8h0M324.8 158.4h0M328.3 153.6h0M314.9 162.1h0M322.8 159.5h0M317.5 168.3h0M329.1 148.9h0M320.4 159.6h0M322.6 152.0h0M332.7 148.2h0M318.7 166.0h0M313.4 168.8h0M342.7 151.9h0M313.9 173.0h0M322.5 151.7h0M321.7 151.0h0M327.2 152.3h0M318.2 181.8h0M313.5 176.4h0M332.2 157.0h0M341.9 150.5h0M314.2 175.0h0M315.6 157.8h0M318.7 156.7h0M320.2 147.8h0M313.5 181.9h0M324.1 147.8h0M317.8 164.6h0M321.8 165.3h0M314.5 162.8h0M327.9 153.7h0M316.4 154.3h0M328.4 163.7h0M339.3 148.5h0M318.7 152.0h0M322.5 164.6h0M315.8 164.3h0M332.0 164.5h0M317.7 177.0h0M330.8 151.7h0M324.2 162.5h0M317.8 173.9h0M319.6 156.9h0M318.0 174.5h0M327.7 165.8h0M318.5 151.1h0M329.9 147.5h0M322.1 164.3h0M323.7 159.2h0M327.6 152.0h0M326.5 163.0h0M319.7 161.0h0M315.7 183.2h0M323.8 170.2h0M321.3 152.1h0M317.7 161.8h0M325.5 154.6h0M315.8 153.7h0M316.3 159.7h0M315.2 162.2h0M345.6 154.0h0M325.2 164.0h0M313.9 179.7h0M320.2 179.5h0M314.9 148.2h0M315.1 159.9h0M316.8 149.0h0M315.8 182.4h0M316.0 154.4h0M320.3 176.3h0M317.1 166.5h0M318.8 148.8h0M320.1 160.3h0M340.4 158.8h0M320.6 157.4h0M319.7 164.9h0M321.8 164.3h0M329.5 153.8h0M317.6 160.6h0M316.0 148.7h0M314.7 160.8h0M314.7 148.8h0M316.9 174.1h0M333.3 147.9h0M320.1 157.0h0M313.4 173.4h0M313.4 160.0h0M316.6 151.2h0M315.0 158.1h0M314.5 191.0h0M319.9 165.0h0M315.7 166.3h0M316.8 160.8h0M326.2 149.7h0M317.6 148.7h0M345.9 153.7h0M317.5 149.0h0M314.1 159.8h0M320.9 157.8h0M328.4 155.7h0M328.4 161.3h0M335.3 156.5h0M320.9 169.3h0M324.1 174.1h0M316.9 153.3h0M315.2 180.2h0M313.5 171.2h0M324.2 149.6h0M316.1 181.5h0M323.0 168.1h0M315.7 160.2h0M340.6 155.8h0M319.3 174.9h0M319.2 163.8h0M315.3 152.3h0M317.8 148.4h0M324.5 154.4h0M314.5 150.9h0M315.4 156.3h0M321.8 159.8h0M318.8 162.6h0M316.1 155.5h0M326.0 160.6h0M314.2 166.9h0M315.4 158.2h0M322.0 163.6h0M330.4 165.4h0M330.8 153.3h0M317.8 155.0h0M324.9 157.8h0M324.4 150.6h0M314.4 159.8h0M323.5 154.5h0M316.7 160.3h0M318.4 158.1h0M324.9 150.3h0M341.7 153.9h0M317.6 154.9h0M317.2 149.4h0M323.7 174.9h0M332.9 160.4h0M335.3 155.0h0M317.8 173.2h0M326.5 149.2h0M313.8 177.1h0M316.0 154.1h0M316.7 185.6h0M325.4 153.9h0M316.6 155.6h0M318.8 157.7h0M334.4 160.9h0M315.6 180.6h0M333.7 148.4h0M316.4 148.9h0M336.4 147.5h0M322.4 152.4h0M331.7 150.1h0M318.0 147.3h0M322.8 154.9h0M313.5 185.9h0M318.7 180.7h0M315.0 174.3h0M344.1 160.7h0M325.7 171.4h0M332.8 155.2h0M322.6 153.3h0M316.1 158.1h0M331.1 172.8h0M317.1 155.8h0M327.0 151.6h0M335.0 153.2h0M333.7 152.1h0M338.3 155.7h0M322.4 150.3h0M334.8 182.3h0M319.1 161.4h0M319.4 164.4h0M324.1 162.8h0M319.0 150.9h0M322.8 156.5h0M316.3 149.2h0M323.7 159.8h0M321.8 171.2h0M324.5 151.3h0M324.1 149.5h0M318.2 158.9h0M330.8 163.3h0M332.3 181.7h0M320.1 161.3h0M334.4 160.8h0M320.8 166.6h0M331.2 169.2h0M346.9 177.8h0M353.9 154.1h0M318.9 153.9h0M319.8 156.3h0M317.5 163.8h0M356.5 160.4h0M328.1 161.9h0M321.7 183.4h0M337.8 158.2h0M316.6 157.9h0M339.4 150.0h0M330.8 176.7h0M340.3 186.1h0M322.0 151.5h0M328.5 167.7h0M338.3 160.5h0M327.7 149.5h0M330.5 163.6h0M321.6 152.1h0M338.4 150.4h0M320.2 175.5h0M318.1 149.8h0M319.7 175.8h0M338.3 155.6h0M352.5 168.3h0M327.4 151.9h0M333.0 190.1h0M331.8 153.9h0M324.2 186.5h0M341.9 152.2h0M334.2 165.9h0M324.3 150.0h0M327.0 151.1h0M320.3 149.5h0M328.3 161.1h0M319.1 155.4h0M334.9 186.4h0M323.0 163.9h0M332.5 154.5h0M332.4 158.3h0M318.7 175.9h0M329.0 158.2h0M322.4 178.9h0M335.7 162.2h0M334.7 167.7h0M318.2 160.6h0M329.5 150.5h0M345.7 150.2h0M334.5 177.2h0M331.1 166.0h0M318.6 150.0h0M321.6 177.3h0M322.0 150.0h0M316.3 160.1h0M317.3 149.5h0M328.5 150.8h0M361.8 161.9h0M317.0 157.8h0M332.9 192.7h0M327.6 158.7h0M318.0 164.7h0M325.1 166.8h0M321.4 149.3h0M320.8 158.3h0M328.2 170.1h0M327.8 153.6h0M341.0 156.5h0M331.6 160.4h0M350.1 164.6h0M317.9 154.4h0M336.2 164.7h0M332.8 170.5h0M344.3 153.1h0M322.7 151.6h0M321.4 159.1h0M343.9 157.5h0M327.2 152.3h0M329.1 171.1h0M319.5 158.0h0M335.8 157.4h0M330.2 168.9h0M328.4 149.8h0M325.1 168.7h0M320.0 149.7h0M327.2 151.0h0M338.1 155.5h0M336.6 158.0h0M322.3 158.9h0M337.9 158.9h0" stroke="#c0c0c2" stroke-width="1.50" stroke-linecap="round" fill="none" opacity="1.00"/>
<path d="M345.5 84.7h0M374.0 84.7h0M385.0 121.0h0M395.0 122.0h0M380.0 140.0h0M247.0 126.0h0M238.0 139.0h0M232.0 144.0h0M273.7 141.5h0M276.0 143.0h0M306.0 138.0h0M308.0 133.0h0M310.0 128.0h0M307.0 142.0h0" stroke="#c4c4c4" stroke-width="1.50" stroke-linecap="round" fill="none" opacity="1.00"/>
<path d="M319.8 147.5h0M318.9 149.5h0M333.3 149.3h0M336.5 149.5h0M320.9 148.0h0M330.8 147.2h0M328.1 147.3h0M314.7 148.6h0M317.1 150.0h0M334.6 148.5h0M318.2 147.4h0M325.7 148.7h0M322.2 149.3h0M326.2 149.5h0M316.0 147.2h0M322.8 148.5h0M319.6 149.1h0M318.8 148.0h0M324.9 149.3h0M332.0 148.2h0M324.2 150.0h0M335.9 149.0h0M316.0 148.5h0M328.8 147.9h0M314.4 150.1h0M335.3 147.4h0M324.7 149.0h0M320.7 147.2h0M331.5 149.5h0M324.0 147.3h0M323.0 147.3h0M336.6 147.2h0M320.4 149.5h0M316.7 147.3h0M315.2 147.5h0M326.3 149.7h0M317.6 147.6h0M331.9 148.4h0M321.6 147.4h0M319.3 150.1h0M316.3 147.8h0M331.3 149.9h0M335.2 148.5h0M336.5 148.9h0M320.4 148.5h0M330.7 149.3h0M316.6 147.6h0M336.5 147.3h0M333.0 148.1h0M319.5 147.8h0M324.8 150.2h0M317.1 149.7h0M321.2 147.6h0M331.4 148.1h0M318.0 148.3h0M333.2 149.8h0M327.3 147.0h0M331.8 148.9h0M335.1 150.0h0M321.3 149.7h0M333.2 147.9h0M322.3 148.2h0M322.0 148.2h0M316.1 147.7h0M335.3 148.3h0M328.8 149.8h0M331.6 147.8h0M335.6 149.6h0M337.3 149.3h0M331.6 149.6h0M319.6 149.1h0M322.6 149.7h0M316.7 148.7h0M321.6 149.6h0M321.8 149.7h0M333.8 149.8h0M316.8 150.0h0M331.4 149.2h0M329.2 147.2h0M334.4 148.8h0M324.4 148.1h0M332.3 149.5h0M334.4 147.7h0M321.7 147.8h0M315.9 148.0h0M314.1 149.5h0M319.0 147.2h0M315.1 149.4h0M318.3 148.5h0M323.1 149.6h0M336.4 148.0h0M328.7 149.9h0M324.8 149.9h0M331.1 148.0h0M334.5 148.8h0M316.0 148.9h0M333.4 148.7h0M325.1 148.3h0M334.6 149.1h0M318.5 148.2h0M322.2 150.1h0M330.2 147.4h0M335.4 147.1h0M327.7 148.4h0M330.7 148.4h0M315.7 148.7h0M333.2 149.5h0M322.1 147.7h0M331.4 149.6h0M318.8 149.8h0" stroke="#b9c6c6" stroke-width="1.50" stroke-linecap="round" fill="none" opacity="1.00"/>
<path d="M359.2 121.5h0M345.1 137.8h0M340.6 119.4h0M329.3 128.3h0M340.1 137.3h0M327.5 145.5h0M343.7 126.2h0M354.7 134.1h0M340.5 111.9h0M337.8 132.7h0M323.1 135.6h0M322.2 140.6h0M319.9 142.7h0M352.3 126.7h0M320.1 131.8h0M320.0 127.2h0M338.6 122.2h0M320.3 131.3h0M334.9 137.9h0M314.8 145.0h0M329.1 139.9h0M331.6 140.0h0M321.3 136.9h0M351.4 144.5h0M351.3 143.3h0M322.9 130.6h0M344.5 131.3h0M345.8 139.8h0M326.5 138.1h0M314.9 129.2h0M318.2 144.8h0M314.5 136.7h0M333.7 133.7h0M339.4 141.9h0M362.5 138.1h0M337.0 119.3h0M316.3 138.9h0M337.9 141.6h0M341.3 112.9h0M348.5 131.1h0M316.7 130.5h0M317.8 144.2h0M317.6 144.1h0M363.1 130.9h0M344.3 124.6h0M316.2 127.2h0M316.1 141.9h0M341.6 135.2h0M358.0 111.4h0M329.9 125.7h0M318.5 130.5h0M334.8 124.5h0M351.5 130.6h0M317.0 140.5h0M333.7 124.2h0M366.4 110.6h0M338.8 141.6h0M331.6 134.6h0M335.8 118.7h0M318.5 134.8h0M367.3 108.2h0M313.9 132.2h0M356.0 136.5h0M321.0 136.0h0M318.0 130.4h0M316.2 134.6h0M316.7 143.3h0M330.3 144.2h0M317.2 127.8h0M328.0 125.6h0M341.0 126.0h0M318.0 144.7h0M321.0 137.1h0M316.8 132.2h0M342.7 144.4h0M315.2 132.4h0M322.2 127.4h0M315.1 138.1h0M319.9 132.7h0M341.5 128.2h0M321.1 134.7h0M317.1 138.2h0M372.2 106.6h0M314.8 142.4h0M340.4 140.1h0M342.2 118.7h0M336.1 115.9h0M326.5 127.7h0M337.0 133.1h0M325.3 141.1h0M321.8 133.3h0M326.7 140.2h0M320.8 140.9h0M327.7 142.1h0M321.5 137.8h0M339.7 121.4h0M324.2 125.9h0M315.1 136.9h0M322.6 129.2h0M363.0 135.5h0M345.4 124.9h0M345.9 130.1h0M314.0 142.5h0M332.2 129.9h0M338.3 123.7h0M329.0 141.3h0M326.4 144.0h0M314.2 143.7h0M372.9 140.8h0M338.7 117.6h0M337.2 143.7h0M313.8 139.8h0M318.6 121.7h0M328.9 140.4h0M333.7 121.4h0M331.0 138.7h0M323.9 137.2h0M329.1 132.2h0M328.6 131.3h0M327.1 125.7h0M317.6 130.0h0M342.5 132.0h0M334.9 141.8h0M339.4 129.6h0M315.7 126.1h0M315.9 145.5h0M351.9 139.5h0M319.2 144.5h0M332.6 133.0h0M326.5 137.9h0M316.0 132.8h0M356.5 116.4h0M329.0 122.9h0M350.1 119.6h0M330.8 128.1h0M325.6 143.7h0M355.5 129.6h0M336.7 145.6h0M327.2 127.2h0M332.4 140.0h0M324.1 129.8h0M344.9 142.4h0M325.1 123.3h0M328.0 127.3h0M318.5 139.9h0M327.1 141.3h0M315.5 135.3h0M322.0 142.6h0M317.2 139.3h0M330.3 135.3h0M347.9 140.3h0M333.9 124.8h0M329.2 141.8h0M316.0 119.6h0M323.2 142.3h0M344.1 130.0h0M333.5 128.1h0M320.6 144.6h0M318.7 132.1h0M321.7 123.7h0M342.7 139.2h0M318.9 136.5h0M317.4 142.6h0M314.5 142.1h0M315.7 145.2h0M332.1 142.0h0M315.4 139.4h0M314.6 139.9h0M324.9 131.1h0M319.6 142.6h0M338.0 143.4h0M337.6 120.7h0M351.4 122.9h0M324.4 143.3h0M318.5 144.6h0M323.3 144.0h0M324.5 137.9h0M322.7 144.1h0M321.6 135.0h0M317.5 139.7h0M329.4 138.6h0M320.2 144.2h0M345.7 135.2h0M314.0 134.9h0M321.9 144.7h0M332.6 120.9h0M357.7 145.3h0M332.0 143.1h0M330.1 139.8h0M320.2 133.9h0M333.1 135.1h0M338.2 125.5h0M326.5 139.9h0M316.2 142.3h0M324.4 145.3h0M351.7 128.7h0M321.1 135.3h0M334.0 137.9h0M334.1 130.2h0M314.0 126.9h0M323.0 144.7h0M342.9 111.6h0M338.2 129.5h0M318.2 141.1h0M329.5 131.8h0M323.8 145.3h0M314.7 141.4h0M332.9 140.6h0M336.4 139.7h0M373.1 132.9h0M315.7 142.6h0M341.7 125.5h0M348.5 136.4h0M315.1 141.1h0M317.9 142.5h0M338.5 141.1h0M335.3 144.5h0M330.2 130.3h0M322.3 123.2h0M352.6 142.0h0M344.7 144.6h0M331.5 139.0h0M326.8 126.3h0M316.9 136.9h0M348.9 117.8h0M316.1 143.0h0M328.2 125.7h0M325.8 130.5h0M321.2 138.3h0M320.1 142.3h0M330.5 120.9h0M320.1 142.3h0M334.2 144.4h0M327.7 142.9h0M321.7 132.1h0M329.3 136.6h0M314.8 137.8h0M325.3 144.9h0M331.7 132.4h0M316.0 132.3h0M326.5 129.5h0M331.5 143.0h0M370.5 128.5h0M325.1 142.6h0M334.0 119.2h0M313.9 131.2h0M335.7 120.0h0M319.1 142.9h0M332.3 126.2h0M325.0 138.6h0M319.5 137.7h0M332.2 120.9h0M331.7 121.5h0M318.9 141.6h0M324.4 132.0h0M318.9 141.3h0M338.7 130.1h0M329.4 124.1h0M367.2 139.8h0M322.3 143.3h0M364.4 143.7h0M317.0 124.7h0M355.9 125.4h0M323.3 135.4h0M362.5 131.7h0M315.0 142.6h0M358.5 141.0h0M344.6 145.1h0M335.9 113.6h0M331.9 124.7h0M345.7 116.9h0M319.1 133.0h0M317.2 145.5h0M373.3 126.0h0M336.1 119.4h0M328.7 139.6h0M342.8 115.0h0M317.0 129.6h0M327.8 142.5h0M326.4 141.7h0M347.8 134.7h0M336.4 128.2h0M329.5 126.3h0M325.3 138.3h0M346.4 136.2h0M317.9 141.1h0M314.2 139.9h0M338.5 143.4h0M356.6 120.2h0M323.6 145.1h0M319.1 127.0h0M329.2 122.8h0M321.2 141.3h0M344.6 138.8h0M321.3 141.9h0M332.7 137.3h0M356.9 139.3h0M320.0 136.8h0M346.4 142.0h0M326.7 141.6h0M334.9 141.3h0M313.7 143.9h0M337.6 138.1h0M318.7 127.9h0M321.5 134.7h0M340.1 115.3h0M315.8 127.8h0M316.3 138.6h0M329.2 145.0h0M318.5 137.6h0M331.5 118.7h0M319.3 140.1h0M344.8 145.0h0M335.0 121.3h0M340.1 127.8h0M318.2 140.4h0M326.6 130.0h0M341.6 143.2h0M315.3 126.7h0M336.5 141.2h0M330.4 134.1h0M326.4 127.2h0M316.2 138.0h0M343.1 139.9h0M324.3 122.9h0M317.1 143.5h0M338.1 142.0h0M335.0 138.1h0M337.2 145.5h0M318.2 130.0h0M353.2 144.1h0M320.5 136.3h0M328.6 142.0h0M317.6 143.4h0M349.0 125.7h0M319.1 133.0h0M327.9 133.9h0M323.6 138.3h0M338.9 142.5h0M317.0 143.0h0M347.8 144.4h0M358.1 109.7h0M319.4 135.4h0M321.2 143.3h0M315.2 138.6h0M338.9 117.0h0M345.9 123.4h0M351.0 145.1h0M319.9 126.9h0M318.4 118.6h0M332.9 132.7h0M363.1 112.4h0M328.2 142.2h0M330.9 140.8h0M331.6 130.5h0M330.3 142.1h0M349.0 136.4h0M329.4 140.7h0M315.8 136.4h0M355.9 145.0h0M316.0 126.5h0M333.5 145.5h0M342.5 140.7h0M315.2 137.0h0M338.1 134.6h0M314.1 133.7h0M344.6 136.0h0M336.3 145.5h0M326.5 121.3h0M338.9 116.8h0M313.7 143.2h0M314.9 139.4h0M315.2 125.3h0M322.4 141.7h0M349.1 130.1h0M344.8 141.5h0M338.8 130.4h0M330.8 144.7h0M358.6 115.0h0M328.1 137.7h0M351.5 142.1h0M314.2 141.0h0M313.8 140.3h0M342.5 129.3h0M323.0 121.7h0M341.1 136.1h0M333.3 145.5h0M362.9 139.5h0M331.2 139.7h0M320.4 126.1h0M319.0 142.2h0M318.4 137.3h0M317.5 143.0h0M326.2 144.5h0M323.0 131.5h0M319.1 128.0h0M330.5 143.2h0M321.4 121.6h0M329.2 137.8h0M316.2 142.8h0M326.0 131.5h0M358.5 141.1h0M347.5 134.8h0M323.6 136.5h0M338.4 136.4h0M338.7 136.7h0M321.4 119.8h0M356.5 131.2h0M315.2 130.9h0M317.2 143.1h0M317.5 134.6h0M363.1 138.0h0M325.4 130.1h0M332.0 137.0h0M315.6 143.6h0M316.9 130.1h0M324.9 140.6h0M313.9 133.4h0M327.2 122.2h0M314.5 144.5h0M317.9 142.5h0M365.1 123.7h0M342.8 143.5h0M348.7 144.5h0M326.4 132.1h0M317.8 142.7h0M331.1 129.4h0M344.8 124.5h0M321.8 145.3h0M323.0 131.3h0M326.2 131.9h0M316.8 125.3h0M357.1 124.1h0M344.1 132.1h0M317.7 145.3h0M344.2 136.0h0M332.6 135.8h0M330.8 133.6h0M319.8 143.6h0M337.5 134.2h0M355.8 120.2h0M361.7 119.5h0M315.8 135.5h0M314.5 123.4h0M319.1 133.7h0M321.1 143.1h0M316.0 143.6h0M315.7 123.4h0M330.8 129.2h0M317.8 137.2h0M328.5 145.1h0M369.7 142.0h0M324.9 131.3h0M348.0 124.5h0M333.1 116.4h0M332.0 137.1h0M316.5 124.7h0M316.7 136.3h0M367.3 104.1h0M334.1 134.5h0M334.6 132.3h0M317.4 140.7h0M330.7 133.1h0M334.6 140.9h0M332.5 117.9h0M353.0 124.4h0M325.4 141.3h0M320.3 131.2h0M360.7 144.8h0M320.7 137.8h0M332.2 136.9h0M320.2 125.5h0M321.0 133.3h0M321.2 136.4h0M318.3 139.8h0M326.2 144.0h0M317.0 140.5h0M337.3 120.8h0M314.9 138.9h0M323.7 134.2h0M335.9 130.5h0M325.9 132.1h0M339.6 140.6h0M349.4 128.9h0M325.7 138.5h0M346.7 142.8h0M338.4 121.1h0M324.1 130.8h0M325.5 127.9h0M336.2 122.1h0M314.0 129.2h0M313.8 142.0h0M336.7 143.5h0M329.4 135.1h0M336.0 130.4h0M330.9 142.1h0M357.4 139.2h0M334.8 135.7h0M321.3 135.0h0M319.4 135.1h0M329.2 131.2h0M344.8 140.7h0M320.5 145.4h0M327.1 134.0h0M335.6 124.6h0M343.1 118.6h0M318.6 131.7h0M316.7 144.5h0M319.4 138.1h0M333.3 138.4h0M352.3 107.5h0M321.8 144.2h0M335.2 120.1h0M341.5 140.5h0M317.5 134.7h0M314.7 132.0h0M320.7 142.2h0M314.0 132.5h0M325.6 130.9h0M316.1 142.2h0M342.6 134.7h0M331.1 123.6h0M331.8 138.2h0M334.7 129.8h0M329.4 133.2h0M366.9 105.4h0M316.5 145.4h0M349.7 136.5h0M324.5 145.5h0M347.2 121.6h0M321.1 136.8h0M337.3 141.9h0M318.7 144.3h0M315.7 141.5h0M333.0 140.0h0M322.5 142.8h0M315.8 133.4h0M332.4 137.1h0M323.5 144.9h0M317.4 128.1h0M319.6 141.6h0M321.5 141.5h0M329.2 129.8h0M320.1 143.2h0M328.2 131.7h0M326.7 145.3h0M325.4 132.9h0M326.6 126.6h0M327.6 139.5h0M322.0 142.3h0M322.5 126.5h0M330.3 143.2h0M328.5 136.1h0M323.8 125.5h0M314.0 143.0h0M333.8 139.1h0M349.0 118.7h0M330.5 139.8h0M316.6 132.1h0M346.4 144.9h0M321.8 128.2h0M321.3 123.1h0M322.3 143.3h0M322.2 137.4h0M345.4 144.7h0M330.4 131.3h0M366.6 114.4h0M331.2 121.0h0M326.9 140.0h0M344.1 143.1h0M340.1 124.1h0M331.2 141.5h0M349.3 134.5h0M315.1 131.7h0M332.6 144.4h0M315.6 123.5h0M352.7 115.8h0M319.3 133.0h0M318.0 140.0h0M315.9 119.7h0M315.3 126.1h0M321.2 139.1h0M343.4 116.3h0M327.3 141.5h0M340.3 112.4h0M314.3 141.5h0M320.7 125.5h0M325.3 143.1h0M317.0 134.5h0M336.2 134.6h0M317.8 129.6h0M333.0 145.0h0M323.5 121.6h0M348.4 143.5h0M330.9 143.1h0M322.5 144.9h0M317.8 145.5h0M327.6 139.9h0M362.7 132.1h0M326.7 125.8h0M335.1 114.4h0M330.9 135.4h0M356.9 106.1h0M324.7 134.2h0M331.5 130.6h0M362.7 142.0h0M322.2 142.1h0M314.9 133.4h0M330.0 126.9h0M365.3 121.6h0M324.9 134.3h0M335.5 137.3h0M325.1 137.7h0M319.1 142.8h0M313.8 139.1h0M353.9 130.2h0M326.9 144.9h0M335.9 145.3h0M318.9 143.2h0M326.1 132.6h0M357.8 136.3h0M325.1 134.4h0M347.3 139.3h0M352.9 114.9h0M343.7 132.2h0M321.3 142.8h0M324.9 134.7h0M332.1 122.4h0M316.6 139.0h0M317.6 144.2h0M323.2 144.3h0M318.6 135.7h0M358.5 141.8h0M319.9 140.8h0M321.6 140.5h0M330.5 113.4h0M358.2 141.9h0M327.8 137.4h0M336.4 128.0h0M325.3 137.1h0M313.7 138.4h0M314.8 139.6h0M326.8 136.8h0M340.2 143.2h0M340.1 138.5h0M323.9 130.6h0M335.5 136.3h0M327.0 127.5h0M321.8 129.6h0M319.2 119.1h0M324.7 126.9h0M320.3 139.1h0M323.2 144.8h0M318.2 139.9h0M316.6 140.7h0M313.8 143.3h0M317.8 138.1h0M314.0 139.8h0M374.9 124.9h0M339.8 122.4h0M332.2 130.7h0M325.3 125.5h0M317.1 133.5h0M324.1 137.9h0M355.3 128.9h0M348.1 140.3h0M316.4 138.5h0M321.3 137.7h0M324.1 136.5h0M346.5 144.9h0M331.8 137.6h0M314.8 144.6h0M320.3 141.8h0M352.7 140.6h0M346.8 135.3h0M339.9 127.8h0M331.9 144.1h0M339.1 139.5h0M325.8 132.1h0M316.4 143.0h0M323.0 131.0h0M316.4 145.1h0M337.2 145.0h0M321.0 135.7h0M318.3 130.1h0M314.8 136.7h0M330.3 129.7h0M326.9 141.6h0M318.7 132.4h0M317.0 143.5h0M313.9 144.0h0M314.8 127.0h0M316.3 142.6h0M339.4 137.4h0M317.7 144.8h0M316.9 143.2h0M334.5 141.8h0M338.9 143.4h0M314.0 129.5h0M314.2 134.7h0M320.0 143.3h0M326.3 141.7h0M342.4 139.9h0M333.9 126.9h0M317.0 137.4h0M322.8 138.1h0M313.9 137.4h0M323.7 144.1h0M314.4 145.1h0M319.2 144.8h0M326.9 141.8h0M351.6 136.3h0M317.6 144.2h0M317.6 139.1h0M327.5 130.0h0M316.4 145.4h0M321.3 137.5h0M321.0 134.2h0M325.4 138.7h0M325.8 144.7h0M334.1 137.9h0M314.4 144.3h0M320.9 143.0h0M333.1 143.3h0M318.4 140.7h0M333.4 143.1h0M329.3 136.6h0M319.6 125.2h0M328.8 135.9h0M319.2 145.3h0M315.4 138.2h0M314.6 138.4h0M316.7 142.2h0M325.8 132.7h0M323.3 141.5h0M319.1 115.9h0M331.9 139.1h0M314.3 129.4h0M314.0 144.7h0M321.2 144.1h0M323.5 137.5h0M315.0 128.9h0M341.9 134.3h0M318.2 133.4h0M333.2 137.3h0M314.3 142.3h0M322.2 142.4h0M315.0 141.3h0M314.8 141.1h0M314.4 136.5h0M315.4 126.4h0M314.5 138.6h0M320.9 144.0h0M320.6 140.0h0M320.4 144.2h0M318.2 132.9h0M320.4 143.6h0M316.5 130.8h0M314.1 141.0h0M318.7 141.7h0M313.7 144.8h0M326.6 141.4h0M316.1 141.4h0M314.1 145.0h0M326.1 135.6h0M315.2 142.9h0M314.3 142.9h0M318.9 135.8h0M318.6 132.4h0M314.0 144.6h0M321.5 144.6h0M329.8 145.2h0M317.4 139.9h0M320.0 144.7h0M316.6 142.4h0M323.1 134.9h0M322.0 144.2h0M318.0 128.3h0M315.0 142.6h0M313.9 137.4h0M318.0 140.3h0M326.5 144.9h0M320.1 142.9h0M323.6 136.8h0M317.5 144.4h0M323.8 137.2h0M319.5 136.0h0M334.5 143.6h0M321.9 134.1h0M315.9 129.3h0M316.3 123.7h0M319.8 120.4h0M328.8 134.9h0M316.9 141.3h0M319.9 134.2h0M317.5 129.6h0M315.4 140.5h0M314.8 144.3h0M316.1 145.3h0M319.6 138.8h0M317.2 134.4h0M319.2 137.6h0M314.3 142.8h0M313.8 144.4h0M327.0 144.6h0M320.0 142.3h0M321.5 131.2h0M326.1 122.2h0M337.3 142.0h0M344.7 135.5h0M316.0 142.8h0M318.9 132.5h0M314.4 130.1h0M321.5 139.3h0M317.4 142.2h0M317.3 136.8h0M317.8 136.8h0M328.3 145.0h0M313.8 125.8h0M315.2 133.8h0M317.3 143.8h0M313.8 141.7h0M320.1 145.2h0M313.8 143.2h0M328.6 135.9h0M315.8 142.0h0M317.5 137.0h0M316.0 142.5h0M318.6 143.7h0M317.6 136.0h0M318.6 145.2h0M316.7 139.7h0M315.5 142.2h0M319.4 142.4h0M315.1 131.0h0M314.2 129.0h0M314.4 139.9h0M319.2 141.9h0M320.6 130.6h0M316.4 145.2h0M315.3 130.9h0M320.1 135.8h0M317.2 142.9h0M321.9 139.7h0M330.8 144.4h0M316.6 137.4h0M330.3 141.2h0M324.5 144.8h0M320.8 142.8h0M322.0 143.1h0M315.1 143.4h0M322.7 136.9h0M330.8 141.9h0M314.2 134.0h0M315.8 136.7h0M318.4 141.5h0M313.9 143.8h0M323.4 141.3h0M328.6 134.1h0M319.0 117.1h0M313.7 142.0h0M319.0 145.2h0M328.0 144.5h0M319.8 143.4h0M317.1 141.2h0M316.1 144.3h0M321.4 138.7h0M314.3 120.3h0M314.5 143.8h0M316.0 142.4h0M318.4 129.3h0M314.4 139.6h0M320.6 143.5h0M316.8 141.5h0M329.0 135.1h0M318.3 145.1h0M355.2 107.9h0M359.8 125.0h0M372.0 139.0h0M372.6 113.2h0M340.5 123.9h0M385.1 130.1h0M365.5 126.8h0M366.9 125.0h0M354.4 103.6h0M375.3 100.7h0M353.8 121.9h0M355.6 105.9h0M355.7 113.4h0M344.3 118.9h0M349.9 104.1h0M355.7 102.5h0M367.7 127.0h0M366.8 103.4h0M375.3 107.6h0M367.7 115.9h0M342.1 107.3h0M372.1 114.7h0M351.9 110.1h0M365.3 127.8h0M393.2 109.7h0M374.4 107.0h0M375.5 125.2h0M391.0 104.4h0M374.0 123.2h0M363.7 138.8h0M387.0 107.4h0M369.4 122.0h0M381.9 139.7h0M357.7 130.6h0M370.2 126.4h0M370.1 104.7h0M358.3 136.0h0M334.5 107.2h0M361.8 122.9h0M335.5 136.5h0" stroke="#dc2016" stroke-width="1.30" stroke-linecap="round" fill="none" opacity="0.85"/>
<path d="M220.7 122.3h0M223.9 128.8h0M225.1 136.8h0M229.7 139.6h0M218.8 141.9h0M226.9 143.1h0M242.6 142.6h0M252.3 133.2h0M256.9 125.3h0M258.8 128.1h0M263.9 132.7h0M265.0 137.3h0M262.7 139.6h0M265.7 128.1h0M261.5 143.1h0M181.2 140.8h0M257.5 126.5h0M264.5 135.0h0" stroke="#8696cc" stroke-width="1.90" stroke-linecap="round" fill="none" opacity="1.00"/>
<line x1="134.2" y1="145.7" x2="442.5" y2="145.7" stroke="#3a3a3a" stroke-width="1.7" stroke-dasharray="1.9 1.0"/>
<line x1="268.5" y1="13.5" x2="268.5" y2="216.2" stroke="#3a3a3a" stroke-width="1.7" stroke-dasharray="1.9 1.0"/>
<line x1="313.1" y1="13.5" x2="313.1" y2="216.2" stroke="#3a3a3a" stroke-width="1.7" stroke-dasharray="1.9 1.0"/>
<line x1="134.2" y1="13.5" x2="134.2" y2="216.9" stroke="#1a1a1a" stroke-width="1.5"/>
<line x1="133.4" y1="216.2" x2="442.5" y2="216.2" stroke="#1a1a1a" stroke-width="1.5"/>
<line x1="130" y1="207.0" x2="134.2" y2="207.0" stroke="#1a1a1a" stroke-width="1.5"/>
<text x="125.6" y="210.9" font-size="11" text-anchor="end" fill="#222">0</text>
<line x1="130" y1="145.7" x2="134.2" y2="145.7" stroke="#1a1a1a" stroke-width="1.5"/>
<text x="125.6" y="149.6" font-size="11" text-anchor="end" fill="#222">1</text>
<line x1="130" y1="84.3" x2="134.2" y2="84.3" stroke="#1a1a1a" stroke-width="1.5"/>
<text x="125.6" y="88.2" font-size="11" text-anchor="end" fill="#222">2</text>
<line x1="130" y1="23.0" x2="134.2" y2="23.0" stroke="#1a1a1a" stroke-width="1.5"/>
<text x="125.6" y="26.9" font-size="11" text-anchor="end" fill="#222">3</text>
<line x1="201.5" y1="216.2" x2="201.5" y2="220.8" stroke="#1a1a1a" stroke-width="1.5"/>
<text x="201.5" y="235.9" font-size="11.4" text-anchor="middle" fill="#222">−4</text>
<line x1="290.8" y1="216.2" x2="290.8" y2="220.8" stroke="#1a1a1a" stroke-width="1.5"/>
<text x="290.8" y="235.9" font-size="11.4" text-anchor="middle" fill="#222">0</text>
<line x1="380.1" y1="216.2" x2="380.1" y2="220.8" stroke="#1a1a1a" stroke-width="1.5"/>
<text x="380.1" y="235.9" font-size="11.4" text-anchor="middle" fill="#222">4</text>
<circle cx="147.3" cy="28.3" r="4.3" fill="#97abd6"/>
<circle cx="147.3" cy="44.4" r="4.3" fill="#ec8a7c"/>
<text x="156.5" y="31.9" font-size="10.5" fill="#222">Downregulated</text>
<text x="156.5" y="48.0" font-size="10.5" fill="#222">Upregulated</text>
<text x="335" y="125.8" font-size="11.3" font-weight="bold" fill="#111">Anxa5</text>
<text x="153.0" y="208.9" font-size="11.4" fill="#222" textLength="100.6" lengthAdjust="spacingAndGlyphs">Upregulated in CML</text>
<text x="327.5" y="208.9" font-size="11.4" fill="#222" textLength="99.1" lengthAdjust="spacingAndGlyphs">Upregulated in AML</text>
<line x1="145.4" y1="198.0" x2="145.4" y2="210.0" stroke="#1e9a4a" stroke-width="1.4"/>
<path d="M145.4 196.0L142.6 201.0L148.2 201.0z" fill="#1e9a4a"/>
<line x1="436.6" y1="198.0" x2="436.6" y2="210.0" stroke="#1e9a4a" stroke-width="1.4"/>
<path d="M436.6 196.0L433.8 201.0L439.4 201.0z" fill="#1e9a4a"/>
<text x="224.6" y="254.5" font-size="12.8" fill="#222" stroke="#222" stroke-width="0.3" textLength="128.4" lengthAdjust="spacingAndGlyphs">Log<tspan font-size="9.6" dy="2.8">2</tspan><tspan dy="-2.8"> fold change AML vs CML</tspan></text>
<g transform="translate(89.2,129.2) rotate(-90)">
<text x="0.2" y="0.2" font-size="13.3" fill="#222" stroke="#222" stroke-width="0.3" textLength="4.0" lengthAdjust="spacingAndGlyphs">−</text>
<text x="9.3" y="0" font-size="13.3" fill="#222" stroke="#222" stroke-width="0.3" textLength="13.2" lengthAdjust="spacingAndGlyphs">Log</text>
<text x="24.6" y="3.0" font-size="10.3" fill="#222" stroke="#222" stroke-width="0.3" textLength="7.0" lengthAdjust="spacingAndGlyphs">10</text>
<text x="32.4" y="0" font-size="13.3" font-style="italic" fill="#222" stroke="#222" stroke-width="0.3" textLength="6.2" lengthAdjust="spacingAndGlyphs">P</text>
</g>
<rect x="384.50" y="325.35" width="67.80" height="11.50" fill="#e41d1f"/>
<line x1="377" y1="331.10" x2="381.1" y2="331.10" stroke="#1a1a1a" stroke-width="1.5"/>
<text x="372" y="334.80" font-size="11.1" text-anchor="end" fill="#222">Neutrophil-mediated immunity</text>
<rect x="384.50" y="339.03" width="66.00" height="11.50" fill="#e41d1f"/>
<line x1="377" y1="344.78" x2="381.1" y2="344.78" stroke="#1a1a1a" stroke-width="1.5"/>
<text x="372" y="348.48" font-size="11.1" text-anchor="end" fill="#222">Neutrophil degranulation</text>
<rect x="384.50" y="352.71" width="66.00" height="11.50" fill="#e41d1f"/>
<line x1="377" y1="358.46" x2="381.1" y2="358.46" stroke="#1a1a1a" stroke-width="1.5"/>
<text x="372" y="362.16" font-size="11.1" text-anchor="end" fill="#222">Neutrophil activation involved in immune response</text>
<rect x="384.50" y="366.39" width="14.40" height="11.50" fill="#e41d1f"/>
<line x1="377" y1="372.14" x2="381.1" y2="372.14" stroke="#1a1a1a" stroke-width="1.5"/>
<text x="372" y="375.84" font-size="11.1" text-anchor="end" fill="#222">Fcγ receptor signaling pathway involved in phagocytosis</text>
<rect x="384.50" y="380.07" width="14.40" height="11.50" fill="#e41d1f"/>
<line x1="377" y1="385.82" x2="381.1" y2="385.82" stroke="#1a1a1a" stroke-width="1.5"/>
<text x="372" y="389.52" font-size="11.1" text-anchor="end" fill="#222">Fcγ receptor signaling pathway</text>
<rect x="384.50" y="393.75" width="14.40" height="11.50" fill="#e41d1f"/>
<line x1="377" y1="399.50" x2="381.1" y2="399.50" stroke="#1a1a1a" stroke-width="1.5"/>
<text x="372" y="403.20" font-size="11.1" text-anchor="end" fill="#222">Fc receptor mediated stimulatory signaling pathway</text>
<rect x="384.50" y="407.43" width="28.10" height="11.50" fill="#e41d1f"/>
<line x1="377" y1="413.18" x2="381.1" y2="413.18" stroke="#1a1a1a" stroke-width="1.5"/>
<text x="42.6" y="416.88" font-size="11.1" fill="#222" textLength="329.4" lengthAdjust="spacingAndGlyphs">Transmembrane receptor protein tyrosine kinase signaling pathway</text>
<rect x="384.50" y="421.11" width="9.40" height="11.50" fill="#e0123a"/>
<line x1="377" y1="426.86" x2="381.1" y2="426.86" stroke="#1a1a1a" stroke-width="1.5"/>
<text x="372" y="430.56" font-size="11.1" text-anchor="end" fill="#222">Positive regulation of phosphatidylinositol 3-kinase signaling</text>
<rect x="384.50" y="434.79" width="8.30" height="11.50" fill="#dc1040"/>
<line x1="377" y1="440.54" x2="381.1" y2="440.54" stroke="#1a1a1a" stroke-width="1.5"/>
<text x="67.3" y="444.24" font-size="11.1" fill="#222" textLength="304.7" lengthAdjust="spacingAndGlyphs">Vascular endothelial growth factor receptor signaling pathway</text>
<rect x="384.50" y="448.47" width="3.50" height="11.50" fill="#d8103f"/>
<line x1="377" y1="454.22" x2="381.1" y2="454.22" stroke="#1a1a1a" stroke-width="1.5"/>
<text x="372" y="457.92" font-size="11.1" text-anchor="end" fill="#222">Neuron projection maintenance</text>
<rect x="384.50" y="462.15" width="16.50" height="11.50" fill="#e60f3e"/>
<line x1="377" y1="467.90" x2="381.1" y2="467.90" stroke="#1a1a1a" stroke-width="1.5"/>
<text x="113.3" y="471.60" font-size="11.1" fill="#222" textLength="258.7" lengthAdjust="spacingAndGlyphs">Phosphate-containing compound metabolic process</text>
<rect x="384.50" y="475.83" width="8.30" height="11.50" fill="#e40c42"/>
<line x1="377" y1="481.58" x2="381.1" y2="481.58" stroke="#1a1a1a" stroke-width="1.5"/>
<text x="372" y="485.28" font-size="11.1" text-anchor="end" fill="#222">Peptidyl-tyrosine phosphorylation</text>
<rect x="384.50" y="489.51" width="3.00" height="11.50" fill="#d60f5a"/>
<line x1="377" y1="495.26" x2="381.1" y2="495.26" stroke="#1a1a1a" stroke-width="1.5"/>
<text x="372" y="498.96" font-size="11.1" text-anchor="end" fill="#222">Immature B cell differentiation</text>
<rect x="384.50" y="503.19" width="10.50" height="11.50" fill="#cc1587"/>
<line x1="377" y1="508.94" x2="381.1" y2="508.94" stroke="#1a1a1a" stroke-width="1.5"/>
<text x="223.5" y="512.64" font-size="11.1" fill="#222" textLength="148.5" lengthAdjust="spacingAndGlyphs">Fc receptor signaling pathway</text>
<rect x="384.50" y="516.87" width="3.00" height="11.50" fill="#8e1f80"/>
<line x1="377" y1="522.62" x2="381.1" y2="522.62" stroke="#1a1a1a" stroke-width="1.5"/>
<text x="254.0" y="526.32" font-size="11.1" fill="#222" textLength="118.0" lengthAdjust="spacingAndGlyphs">Neutrophil extravasation</text>
<rect x="384.50" y="530.55" width="3.80" height="11.50" fill="#72288a"/>
<line x1="377" y1="536.30" x2="381.1" y2="536.30" stroke="#1a1a1a" stroke-width="1.5"/>
<text x="372" y="540.00" font-size="11.1" text-anchor="end" fill="#222">Positive regulation of leukocyte degranulation</text>
<rect x="384.50" y="544.23" width="46.70" height="11.50" fill="#7a2b8e"/>
<line x1="377" y1="549.98" x2="381.1" y2="549.98" stroke="#1a1a1a" stroke-width="1.5"/>
<text x="190.4" y="553.68" font-size="11.1" fill="#222" textLength="181.6" lengthAdjust="spacingAndGlyphs">Cellular protein modification process</text>
<rect x="384.50" y="557.91" width="13.50" height="11.50" fill="#2548a0"/>
<line x1="377" y1="563.66" x2="381.1" y2="563.66" stroke="#1a1a1a" stroke-width="1.5"/>
<text x="372" y="567.36" font-size="11.1" text-anchor="end" fill="#222">Regulated exocytosis</text>
<rect x="384.50" y="571.59" width="7.50" height="11.50" fill="#2548a0"/>
<line x1="377" y1="577.34" x2="381.1" y2="577.34" stroke="#1a1a1a" stroke-width="1.5"/>
<text x="174.6" y="581.04" font-size="11.1" fill="#222" textLength="197.4" lengthAdjust="spacingAndGlyphs">Regulation of myeloid cell differentiation</text>
<rect x="384.50" y="585.27" width="3.80" height="11.50" fill="#2548a0"/>
<line x1="377" y1="591.02" x2="381.1" y2="591.02" stroke="#1a1a1a" stroke-width="1.5"/>
<text x="162.1" y="594.72" font-size="11.1" fill="#222" textLength="209.9" lengthAdjust="spacingAndGlyphs">Arp2/3 complex-mediated actin nucleation</text>
<line x1="381.1" y1="323.1" x2="381.1" y2="599.5" stroke="#1a1a1a" stroke-width="1.5"/>
<line x1="380.4" y1="598.8" x2="455.6" y2="598.8" stroke="#1a1a1a" stroke-width="1.5"/>
<line x1="384.30" y1="598.8" x2="384.30" y2="603.0" stroke="#1a1a1a" stroke-width="1.5"/>
<text x="384.00" y="617.0" font-size="10.8" text-anchor="middle" fill="#222">0</text>
<line x1="403.80" y1="598.8" x2="403.80" y2="603.0" stroke="#1a1a1a" stroke-width="1.5"/>
<text x="402.30" y="617.0" font-size="10.8" text-anchor="middle" fill="#222">20</text>
<line x1="423.40" y1="598.8" x2="423.40" y2="603.0" stroke="#1a1a1a" stroke-width="1.5"/>
<text x="421.60" y="617.0" font-size="10.8" text-anchor="middle" fill="#222">40</text>
<line x1="442.90" y1="598.8" x2="442.90" y2="603.0" stroke="#1a1a1a" stroke-width="1.5"/>
<text x="443.30" y="617.0" font-size="10.8" text-anchor="middle" fill="#222">60</text>
<text x="396.6" y="633.5" font-size="12.9" fill="#222" stroke="#222" stroke-width="0.4" textLength="47.8" lengthAdjust="spacingAndGlyphs">Gene count</text>
<text transform="translate(34.2,460.6) rotate(-90)" font-size="13.6" fill="#222" stroke="#222" stroke-width="0.4" text-anchor="middle" textLength="65" lengthAdjust="spacingAndGlyphs">Enriched terms</text>
<text x="418.6" y="297.6" font-size="13.3" text-anchor="middle" fill="#222">Upregulated in</text>
<text x="379.6" y="314.4" font-size="13.3" fill="#222" textLength="77.3" lengthAdjust="spacingAndGlyphs">AML vs CML</text>
<rect x="384.90" y="701.55" width="55.00" height="11.50" fill="#e41e1e"/>
<line x1="377" y1="707.30" x2="381.1" y2="707.30" stroke="#1a1a1a" stroke-width="1.5"/>
<text x="202.0" y="711.00" font-size="11.1" fill="#222" textLength="170.0" lengthAdjust="spacingAndGlyphs">Type I interferon signaling pathway</text>
<rect x="384.90" y="715.23" width="55.00" height="11.50" fill="#e41e20"/>
<line x1="377" y1="720.98" x2="381.1" y2="720.98" stroke="#1a1a1a" stroke-width="1.5"/>
<text x="372" y="724.68" font-size="11.1" text-anchor="end" fill="#222">Cellular response to type I interferon</text>
<rect x="384.90" y="728.91" width="36.30" height="11.50" fill="#e71a28"/>
<line x1="377" y1="734.66" x2="381.1" y2="734.66" stroke="#1a1a1a" stroke-width="1.5"/>
<text x="41.9" y="738.36" font-size="11.1" fill="#222" textLength="330.1" lengthAdjust="spacingAndGlyphs">Negative regulation of type I interferon-mediated signaling pathway</text>
<rect x="384.90" y="742.59" width="36.30" height="11.50" fill="#e71530"/>
<line x1="377" y1="748.34" x2="381.1" y2="748.34" stroke="#1a1a1a" stroke-width="1.5"/>
<text x="372" y="752.04" font-size="11.1" text-anchor="end" fill="#222">Positive regulation of toll-like receptor signaling pathway</text>
<rect x="384.90" y="756.27" width="36.30" height="11.50" fill="#e61434"/>
<line x1="377" y1="762.02" x2="381.1" y2="762.02" stroke="#1a1a1a" stroke-width="1.5"/>
<text x="372" y="765.72" font-size="11.1" text-anchor="end" fill="#222">Regulation of type I interferon-mediated signaling pathway</text>
<rect x="384.90" y="769.95" width="36.30" height="11.50" fill="#e6113c"/>
<line x1="377" y1="775.70" x2="381.1" y2="775.70" stroke="#1a1a1a" stroke-width="1.5"/>
<text x="372" y="779.40" font-size="11.1" text-anchor="end" fill="#222">Negative regulation of innate immune response</text>
<rect x="384.90" y="783.63" width="36.30" height="11.50" fill="#e60b4e"/>
<line x1="377" y1="789.38" x2="381.1" y2="789.38" stroke="#1a1a1a" stroke-width="1.5"/>
<text x="372" y="793.08" font-size="11.1" text-anchor="end" fill="#222">Negative regulation of viral genome replication</text>
<rect x="384.90" y="797.31" width="36.30" height="11.50" fill="#e40852"/>
<line x1="377" y1="803.06" x2="381.1" y2="803.06" stroke="#1a1a1a" stroke-width="1.5"/>
<text x="74.2" y="806.76" font-size="11.1" fill="#222" textLength="297.8" lengthAdjust="spacingAndGlyphs">Negative regulation of cytokine–mediated signaling pathway</text>
<rect x="384.90" y="810.99" width="36.30" height="11.50" fill="#d80b76"/>
<line x1="377" y1="816.74" x2="381.1" y2="816.74" stroke="#1a1a1a" stroke-width="1.5"/>
<text x="372" y="820.44" font-size="11.1" text-anchor="end" fill="#222">Regulation of viral genome replication</text>
<rect x="384.90" y="824.67" width="36.30" height="11.50" fill="#d20b80"/>
<line x1="377" y1="830.42" x2="381.1" y2="830.42" stroke="#1a1a1a" stroke-width="1.5"/>
<text x="372" y="834.12" font-size="11.1" text-anchor="end" fill="#222">Negative regulation of viral process</text>
<rect x="384.90" y="838.35" width="36.30" height="11.50" fill="#ca1188"/>
<line x1="377" y1="844.10" x2="381.1" y2="844.10" stroke="#1a1a1a" stroke-width="1.5"/>
<text x="372" y="847.80" font-size="11.1" text-anchor="end" fill="#222">Integrin-mediated signaling pathway</text>
<rect x="384.90" y="852.03" width="18.30" height="11.50" fill="#5e389c"/>
<line x1="377" y1="857.78" x2="381.1" y2="857.78" stroke="#1a1a1a" stroke-width="1.5"/>
<text x="84.6" y="861.48" font-size="11.1" fill="#222" textLength="287.4" lengthAdjust="spacingAndGlyphs">Positive regulation of toll-like receptor 9 signaling pathway</text>
<rect x="384.90" y="865.71" width="18.30" height="11.50" fill="#5e389c"/>
<line x1="377" y1="871.46" x2="381.1" y2="871.46" stroke="#1a1a1a" stroke-width="1.5"/>
<text x="218.2" y="875.16" font-size="11.1" fill="#222" textLength="153.8" lengthAdjust="spacingAndGlyphs">Alpha-beta T cell differentiation</text>
<rect x="384.90" y="879.39" width="18.30" height="11.50" fill="#5e389c"/>
<line x1="377" y1="885.14" x2="381.1" y2="885.14" stroke="#1a1a1a" stroke-width="1.5"/>
<text x="169.0" y="888.84" font-size="11.1" fill="#222" textLength="203.0" lengthAdjust="spacingAndGlyphs">CD4-positive, alpha-beta T cell activation</text>
<rect x="384.90" y="893.07" width="73.20" height="11.50" fill="#483c9a"/>
<line x1="377" y1="898.82" x2="381.1" y2="898.82" stroke="#1a1a1a" stroke-width="1.5"/>
<text x="372" y="902.52" font-size="11.1" text-anchor="end" fill="#222">Cytokine-mediated signaling pathway</text>
<rect x="384.90" y="906.75" width="18.30" height="11.50" fill="#2548a0"/>
<line x1="377" y1="912.50" x2="381.1" y2="912.50" stroke="#1a1a1a" stroke-width="1.5"/>
<text x="240.0" y="916.20" font-size="11.1" fill="#222" textLength="132.0" lengthAdjust="spacingAndGlyphs">ISG15-protein conjugation</text>
<rect x="384.90" y="920.43" width="18.30" height="11.50" fill="#2548a0"/>
<line x1="377" y1="926.18" x2="381.1" y2="926.18" stroke="#1a1a1a" stroke-width="1.5"/>
<text x="85.0" y="929.88" font-size="11.1" fill="#222" textLength="287.0" lengthAdjust="spacingAndGlyphs">Positive regulation of toll-like receptor 2 signaling pathway</text>
<rect x="384.90" y="934.11" width="18.30" height="11.50" fill="#2548a0"/>
<line x1="377" y1="939.86" x2="381.1" y2="939.86" stroke="#1a1a1a" stroke-width="1.5"/>
<text x="372" y="943.56" font-size="11.1" text-anchor="end" fill="#222">Positive regulation of toll-like receptor 7 signaling pathway</text>
<rect x="384.90" y="947.79" width="18.30" height="11.50" fill="#2548a0"/>
<line x1="377" y1="953.54" x2="381.1" y2="953.54" stroke="#1a1a1a" stroke-width="1.5"/>
<text x="372" y="957.24" font-size="11.1" text-anchor="end" fill="#222">Protein repair</text>
<rect x="384.90" y="961.47" width="18.30" height="11.50" fill="#2548a0"/>
<line x1="377" y1="967.22" x2="381.1" y2="967.22" stroke="#1a1a1a" stroke-width="1.5"/>
<text x="79.8" y="970.92" font-size="11.1" fill="#222" textLength="292.2" lengthAdjust="spacingAndGlyphs">Negative regulation of toll-like receptor 2 signaling pathway</text>
<line x1="381.1" y1="699.3" x2="381.1" y2="975.9" stroke="#1a1a1a" stroke-width="1.5"/>
<line x1="380.4" y1="975.1" x2="462.0" y2="975.1" stroke="#1a1a1a" stroke-width="1.5"/>
<line x1="384.80" y1="975.1" x2="384.80" y2="979.4" stroke="#1a1a1a" stroke-width="1.5"/>
<text x="384.60" y="994.6" font-size="10.8" text-anchor="middle" fill="#222">0</text>
<line x1="403.00" y1="975.1" x2="403.00" y2="979.4" stroke="#1a1a1a" stroke-width="1.5"/>
<text x="402.60" y="994.6" font-size="10.8" text-anchor="middle" fill="#222">1</text>
<line x1="421.30" y1="975.1" x2="421.30" y2="979.4" stroke="#1a1a1a" stroke-width="1.5"/>
<text x="421.10" y="994.6" font-size="10.8" text-anchor="middle" fill="#222">2</text>
<line x1="439.60" y1="975.1" x2="439.60" y2="979.4" stroke="#1a1a1a" stroke-width="1.5"/>
<text x="439.30" y="994.6" font-size="10.8" text-anchor="middle" fill="#222">3</text>
<line x1="457.80" y1="975.1" x2="457.80" y2="979.4" stroke="#1a1a1a" stroke-width="1.5"/>
<text x="457.40" y="994.6" font-size="10.8" text-anchor="middle" fill="#222">4</text>
<text x="399.6" y="1007.0" font-size="12.9" fill="#222" stroke="#222" stroke-width="0.4" textLength="47.6" lengthAdjust="spacingAndGlyphs">Gene count</text>
<text transform="translate(34.2,836.9) rotate(-90)" font-size="13.6" fill="#222" stroke="#222" stroke-width="0.4" text-anchor="middle" textLength="65" lengthAdjust="spacingAndGlyphs">Enriched terms</text>
<text x="422.1" y="674.0" font-size="13.3" text-anchor="middle" fill="#222">Downregulated in</text>
<text x="383.0" y="690.5" font-size="13.3" fill="#222" textLength="77.8" lengthAdjust="spacingAndGlyphs">AML vs CML</text>
<defs><linearGradient id="g442" x1="0" y1="0" x2="0" y2="1"><stop offset="0" stop-color="#ea1530"/><stop offset="0.2" stop-color="#e5104a"/><stop offset="0.4" stop-color="#d9108a"/><stop offset="0.6" stop-color="#9a2592"/><stop offset="0.8" stop-color="#5c3499"/><stop offset="1" stop-color="#2e3f9a"/></linearGradient></defs>
<rect x="467.2" y="442.8" width="10.6" height="52.9" fill="url(#g442)"/>
<line x1="467.2" y1="457.6" x2="469.0" y2="457.6" stroke="#fbe" stroke-width="1.0"/>
<line x1="475.4" y1="457.6" x2="477.8" y2="457.6" stroke="#fbe" stroke-width="1.0"/>
<text x="482.7" y="461.2" font-size="9.0" fill="#222" textLength="26.9" lengthAdjust="spacingAndGlyphs">2e-04</text>
<line x1="467.2" y1="473.4" x2="469.0" y2="473.4" stroke="#fbe" stroke-width="1.0"/>
<line x1="475.4" y1="473.4" x2="477.8" y2="473.4" stroke="#fbe" stroke-width="1.0"/>
<text x="482.7" y="476.3" font-size="9.0" fill="#222" textLength="26.9" lengthAdjust="spacingAndGlyphs">4e-04</text>
<line x1="467.2" y1="488.8" x2="469.0" y2="488.8" stroke="#fbe" stroke-width="1.0"/>
<line x1="475.4" y1="488.8" x2="477.8" y2="488.8" stroke="#fbe" stroke-width="1.0"/>
<text x="482.7" y="491.3" font-size="9.0" fill="#222" textLength="26.9" lengthAdjust="spacingAndGlyphs">6e-04</text>
<text x="467.6" y="435.3" font-size="9.1" fill="#222" textLength="32.6" lengthAdjust="spacingAndGlyphs"><tspan font-style="italic">P</tspan> value</text>
<defs><linearGradient id="g819" x1="0" y1="0" x2="0" y2="1"><stop offset="0" stop-color="#ea1530"/><stop offset="0.2" stop-color="#e5104a"/><stop offset="0.4" stop-color="#d9108a"/><stop offset="0.6" stop-color="#9a2592"/><stop offset="0.8" stop-color="#5c3499"/><stop offset="1" stop-color="#2e3f9a"/></linearGradient></defs>
<rect x="467.2" y="819.0" width="10.6" height="52.9" fill="url(#g819)"/>
<line x1="467.2" y1="832.8" x2="469.0" y2="832.8" stroke="#fbe" stroke-width="1.0"/>
<line x1="475.4" y1="832.8" x2="477.8" y2="832.8" stroke="#fbe" stroke-width="1.0"/>
<text x="482.7" y="836.1" font-size="10.0" fill="#222" textLength="20.5" lengthAdjust="spacingAndGlyphs">.002</text>
<line x1="467.2" y1="847.3" x2="469.0" y2="847.3" stroke="#fbe" stroke-width="1.0"/>
<line x1="475.4" y1="847.3" x2="477.8" y2="847.3" stroke="#fbe" stroke-width="1.0"/>
<text x="482.7" y="850.6" font-size="10.0" fill="#222" textLength="20.5" lengthAdjust="spacingAndGlyphs">.004</text>
<line x1="467.2" y1="861.5" x2="469.0" y2="861.5" stroke="#fbe" stroke-width="1.0"/>
<line x1="475.4" y1="861.5" x2="477.8" y2="861.5" stroke="#fbe" stroke-width="1.0"/>
<text x="482.7" y="864.7" font-size="10.0" fill="#222" textLength="20.5" lengthAdjust="spacingAndGlyphs">.006</text>
<text x="467.6" y="811.9" font-size="9.1" fill="#222" textLength="32.6" lengthAdjust="spacingAndGlyphs"><tspan font-style="italic">P</tspan> value</text>
<rect x="0.6" y="0.6" width="518.6" height="1019.4" fill="none" stroke="#222" stroke-width="1.3"/>
<line x1="0" y1="1020.2" x2="520" y2="1020.2" stroke="#222" stroke-width="1.6"/>
</svg></body></html>
